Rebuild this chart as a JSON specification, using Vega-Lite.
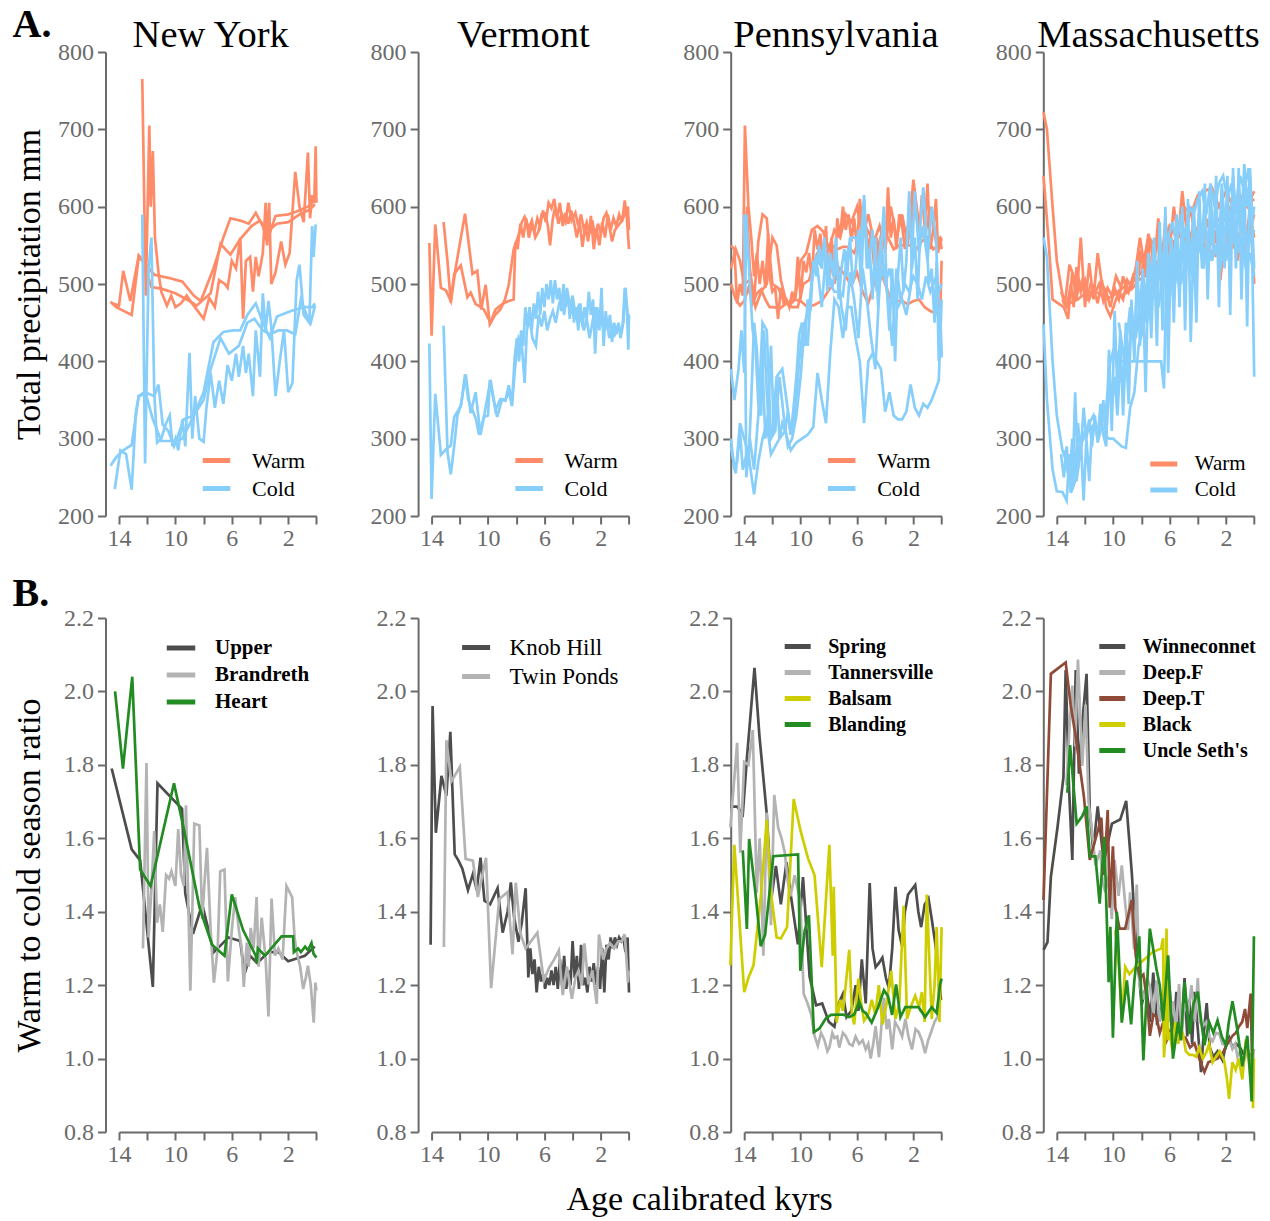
{
"$schema": "https://vega.github.io/schema/vega-lite/v6.json",
"padding": {"left": 12, "top": 4, "right": 5, "bottom": 5},
"config": {
  "font": "Liberation Serif",
  "view": {"stroke": null},
  "axis": {"grid": false, "domainColor": "#6b6b6b", "domainWidth": 2, "tickColor": "#6b6b6b", "tickWidth": 2, "tickSize": 8, "labelColor": "#6b6b6b", "labelFontSize": 24, "labelFlush": false, "labelOverlap": false, "titleFontSize": 34, "titleFontWeight": "normal", "titleColor": "#000"},
  "axisX": {"labelPadding": 2},
  "axisY": {"labelPadding": 4},
  "title": {"fontSize": 38.5, "fontWeight": "normal", "color": "#000", "anchor": "middle", "frame": "group", "baseline": "alphabetic", "offset": 0, "dy": 19, "dx": -7},
  "legend": {"orient": "none", "symbolType": "stroke", "symbolStrokeWidth": 5, "symbolSize": 756, "labelFontSize": 22, "labelColor": "#000", "labelOffset": 19, "padding": 0, "rowPadding": 0},
  "line": {"strokeWidth": 5, "clip": false}
},
"title": {"text": "A.", "anchor": "start", "frame": "bounds", "fontSize": 40, "fontWeight": "bold", "dx": 0, "dy": 61, "offset": 0, "baseline": "alphabetic"},
"columns": 4,
"bounds": "flush",
"align": "each",
"spacing": {"row": 102, "column": 114.6},
"resolve": {"scale": {"color": "independent", "x": "independent", "y": "independent"}, "legend": {"color": "independent"}},
"datasets": {
"nyT": [
{"l":"U","s":"Warm","x":14.6,"y":477},{"l":"U","s":"Warm","x":14.2,"y":470},{"l":"U","s":"Warm","x":13.1,"y":460},{"l":"U","s":"Warm","x":12.6,"y":535},{"l":"U","s":"Warm","x":12.1,"y":525},{"l":"U","s":"Warm","x":11.5,"y":512},{"l":"U","s":"Warm","x":10.5,"y":508},{"l":"U","s":"Warm","x":9.5,"y":503},{"l":"U","s":"Warm","x":8.7,"y":485},{"l":"U","s":"Warm","x":8.2,"y":478},{"l":"U","s":"Warm","x":7.3,"y":520},{"l":"U","s":"Warm","x":6.6,"y":560},{"l":"U","s":"Warm","x":6.1,"y":585},{"l":"U","s":"Warm","x":5.4,"y":582},{"l":"U","s":"Warm","x":4.8,"y":578},{"l":"U","s":"Warm","x":4.3,"y":592},{"l":"U","s":"Warm","x":3.8,"y":575},{"l":"U","s":"Warm","x":3.5,"y":555},{"l":"U","s":"Warm","x":2.9,"y":588},{"l":"U","s":"Warm","x":2.0,"y":590},{"l":"U","s":"Warm","x":1.5,"y":593},{"l":"U","s":"Warm","x":0.6,"y":600},{"l":"U","s":"Warm","x":0.3,"y":605},
{"l":"H","s":"Warm","x":14.5,"y":475},{"l":"H","s":"Warm","x":14.0,"y":472},{"l":"H","s":"Warm","x":13.7,"y":517},{"l":"H","s":"Warm","x":13.2,"y":478},{"l":"H","s":"Warm","x":12.6,"y":537},{"l":"H","s":"Warm","x":12.3,"y":530},{"l":"H","s":"Warm","x":11.7,"y":496},{"l":"H","s":"Warm","x":11.0,"y":494},{"l":"H","s":"Warm","x":10.0,"y":488},{"l":"H","s":"Warm","x":9.0,"y":478},{"l":"H","s":"Warm","x":8.5,"y":472},{"l":"H","s":"Warm","x":7.5,"y":488},{"l":"H","s":"Warm","x":6.8,"y":552},{"l":"H","s":"Warm","x":6.1,"y":538},{"l":"H","s":"Warm","x":5.4,"y":558},{"l":"H","s":"Warm","x":4.6,"y":575},{"l":"H","s":"Warm","x":4.0,"y":582},{"l":"H","s":"Warm","x":3.5,"y":568},{"l":"H","s":"Warm","x":2.8,"y":578},{"l":"H","s":"Warm","x":2.0,"y":580},{"l":"H","s":"Warm","x":1.2,"y":590},{"l":"H","s":"Warm","x":0.5,"y":596},{"l":"H","s":"Warm","x":0.1,"y":603},
{"l":"B","s":"Warm","x":12.35,"y":765},{"l":"B","s":"Warm","x":12.1,"y":485},{"l":"B","s":"Warm","x":11.85,"y":705},{"l":"B","s":"Warm","x":11.75,"y":600},{"l":"B","s":"Warm","x":11.6,"y":672},{"l":"B","s":"Warm","x":11.45,"y":560},{"l":"B","s":"Warm","x":11.2,"y":515},{"l":"B","s":"Warm","x":11.0,"y":490},{"l":"B","s":"Warm","x":10.6,"y":472},{"l":"B","s":"Warm","x":10.3,"y":485},{"l":"B","s":"Warm","x":10.0,"y":470},{"l":"B","s":"Warm","x":9.6,"y":475},{"l":"B","s":"Warm","x":9.2,"y":485},{"l":"B","s":"Warm","x":8.7,"y":472},{"l":"B","s":"Warm","x":8.0,"y":455},{"l":"B","s":"Warm","x":7.6,"y":482},{"l":"B","s":"Warm","x":7.2,"y":470},{"l":"B","s":"Warm","x":6.9,"y":505},{"l":"B","s":"Warm","x":6.5,"y":500},{"l":"B","s":"Warm","x":6.3,"y":495},{"l":"B","s":"Warm","x":6.0,"y":530},{"l":"B","s":"Warm","x":5.7,"y":520},{"l":"B","s":"Warm","x":5.4,"y":560},{"l":"B","s":"Warm","x":5.2,"y":455},{"l":"B","s":"Warm","x":5.0,"y":530},{"l":"B","s":"Warm","x":4.7,"y":535},{"l":"B","s":"Warm","x":4.5,"y":490},{"l":"B","s":"Warm","x":4.3,"y":535},{"l":"B","s":"Warm","x":4.1,"y":510},{"l":"B","s":"Warm","x":3.8,"y":540},{"l":"B","s":"Warm","x":3.6,"y":605},{"l":"B","s":"Warm","x":3.5,"y":550},{"l":"B","s":"Warm","x":3.35,"y":605},{"l":"B","s":"Warm","x":3.2,"y":500},{"l":"B","s":"Warm","x":2.9,"y":515},{"l":"B","s":"Warm","x":2.5,"y":555},{"l":"B","s":"Warm","x":2.2,"y":525},{"l":"B","s":"Warm","x":1.9,"y":540},{"l":"B","s":"Warm","x":1.5,"y":645},{"l":"B","s":"Warm","x":1.2,"y":600},{"l":"B","s":"Warm","x":0.9,"y":580},{"l":"B","s":"Warm","x":0.6,"y":670},{"l":"B","s":"Warm","x":0.45,"y":585},{"l":"B","s":"Warm","x":0.3,"y":615},{"l":"B","s":"Warm","x":0.15,"y":605},{"l":"B","s":"Warm","x":0.05,"y":678},{"l":"B","s":"Warm","x":0.0,"y":605},
{"l":"U","s":"Cold","x":14.6,"y":265},{"l":"U","s":"Cold","x":14.2,"y":276},{"l":"U","s":"Cold","x":13.7,"y":285},{"l":"U","s":"Cold","x":13.1,"y":292},{"l":"U","s":"Cold","x":12.6,"y":355},{"l":"U","s":"Cold","x":12.1,"y":358},{"l":"U","s":"Cold","x":11.6,"y":325},{"l":"U","s":"Cold","x":11.0,"y":297},{"l":"U","s":"Cold","x":10.0,"y":297},{"l":"U","s":"Cold","x":9.5,"y":300},{"l":"U","s":"Cold","x":8.7,"y":330},{"l":"U","s":"Cold","x":8.0,"y":360},{"l":"U","s":"Cold","x":7.3,"y":425},{"l":"U","s":"Cold","x":6.6,"y":438},{"l":"U","s":"Cold","x":5.9,"y":440},{"l":"U","s":"Cold","x":5.4,"y":440},{"l":"U","s":"Cold","x":4.9,"y":460},{"l":"U","s":"Cold","x":4.3,"y":475},{"l":"U","s":"Cold","x":3.8,"y":450},{"l":"U","s":"Cold","x":3.3,"y":430},{"l":"U","s":"Cold","x":2.8,"y":458},{"l":"U","s":"Cold","x":1.8,"y":465},{"l":"U","s":"Cold","x":0.9,"y":470},{"l":"U","s":"Cold","x":0.3,"y":470},{"l":"U","s":"Cold","x":0.1,"y":475},
{"l":"H","s":"Cold","x":14.3,"y":235},{"l":"H","s":"Cold","x":13.9,"y":285},{"l":"H","s":"Cold","x":13.5,"y":280},{"l":"H","s":"Cold","x":13.1,"y":234},{"l":"H","s":"Cold","x":12.8,"y":335},{"l":"H","s":"Cold","x":12.6,"y":355},{"l":"H","s":"Cold","x":12.2,"y":360},{"l":"H","s":"Cold","x":11.9,"y":358},{"l":"H","s":"Cold","x":11.5,"y":355},{"l":"H","s":"Cold","x":11.2,"y":370},{"l":"H","s":"Cold","x":10.9,"y":318},{"l":"H","s":"Cold","x":10.5,"y":310},{"l":"H","s":"Cold","x":10.1,"y":290},{"l":"H","s":"Cold","x":9.4,"y":325},{"l":"H","s":"Cold","x":8.7,"y":330},{"l":"H","s":"Cold","x":8.0,"y":350},{"l":"H","s":"Cold","x":7.5,"y":390},{"l":"H","s":"Cold","x":6.8,"y":430},{"l":"H","s":"Cold","x":6.2,"y":410},{"l":"H","s":"Cold","x":5.5,"y":420},{"l":"H","s":"Cold","x":4.9,"y":450},{"l":"H","s":"Cold","x":4.4,"y":455},{"l":"H","s":"Cold","x":3.8,"y":440},{"l":"H","s":"Cold","x":3.3,"y":435},{"l":"H","s":"Cold","x":2.7,"y":440},{"l":"H","s":"Cold","x":2.1,"y":440},{"l":"H","s":"Cold","x":1.5,"y":435},{"l":"H","s":"Cold","x":1.1,"y":480},{"l":"H","s":"Cold","x":0.7,"y":460},{"l":"H","s":"Cold","x":0.4,"y":450},{"l":"H","s":"Cold","x":0.1,"y":472},
{"l":"B","s":"Cold","x":12.35,"y":590},{"l":"B","s":"Cold","x":12.15,"y":268},{"l":"B","s":"Cold","x":11.9,"y":520},{"l":"B","s":"Cold","x":11.7,"y":560},{"l":"B","s":"Cold","x":11.5,"y":360},{"l":"B","s":"Cold","x":11.3,"y":295},{"l":"B","s":"Cold","x":11.0,"y":300},{"l":"B","s":"Cold","x":10.7,"y":318},{"l":"B","s":"Cold","x":10.4,"y":330},{"l":"B","s":"Cold","x":10.2,"y":290},{"l":"B","s":"Cold","x":10.0,"y":300},{"l":"B","s":"Cold","x":9.8,"y":285},{"l":"B","s":"Cold","x":9.5,"y":325},{"l":"B","s":"Cold","x":9.3,"y":290},{"l":"B","s":"Cold","x":9.0,"y":411},{"l":"B","s":"Cold","x":8.8,"y":300},{"l":"B","s":"Cold","x":8.6,"y":355},{"l":"B","s":"Cold","x":8.3,"y":300},{"l":"B","s":"Cold","x":8.0,"y":296},{"l":"B","s":"Cold","x":7.8,"y":340},{"l":"B","s":"Cold","x":7.5,"y":385},{"l":"B","s":"Cold","x":7.2,"y":340},{"l":"B","s":"Cold","x":6.9,"y":375},{"l":"B","s":"Cold","x":6.6,"y":345},{"l":"B","s":"Cold","x":6.3,"y":395},{"l":"B","s":"Cold","x":6.0,"y":375},{"l":"B","s":"Cold","x":5.7,"y":410},{"l":"B","s":"Cold","x":5.5,"y":380},{"l":"B","s":"Cold","x":5.2,"y":420},{"l":"B","s":"Cold","x":5.0,"y":385},{"l":"B","s":"Cold","x":4.8,"y":410},{"l":"B","s":"Cold","x":4.5,"y":355},{"l":"B","s":"Cold","x":4.3,"y":440},{"l":"B","s":"Cold","x":4.0,"y":380},{"l":"B","s":"Cold","x":3.8,"y":488},{"l":"B","s":"Cold","x":3.6,"y":440},{"l":"B","s":"Cold","x":3.4,"y":478},{"l":"B","s":"Cold","x":3.2,"y":445},{"l":"B","s":"Cold","x":2.9,"y":355},{"l":"B","s":"Cold","x":2.6,"y":400},{"l":"B","s":"Cold","x":2.3,"y":440},{"l":"B","s":"Cold","x":2.0,"y":360},{"l":"B","s":"Cold","x":1.7,"y":372},{"l":"B","s":"Cold","x":1.4,"y":505},{"l":"B","s":"Cold","x":1.2,"y":525},{"l":"B","s":"Cold","x":0.9,"y":460},{"l":"B","s":"Cold","x":0.7,"y":455},{"l":"B","s":"Cold","x":0.5,"y":450},{"l":"B","s":"Cold","x":0.3,"y":575},{"l":"B","s":"Cold","x":0.2,"y":535},{"l":"B","s":"Cold","x":0.05,"y":577}
],
"vtT": [
{"l":"K","s":"Warm","x":14.16,"y":553},{"l":"K","s":"Warm","x":14.0,"y":433},{"l":"K","s":"Warm","x":13.74,"y":577},{"l":"K","s":"Warm","x":13.34,"y":495},{"l":"K","s":"Warm","x":12.99,"y":492},{"l":"K","s":"Warm","x":12.64,"y":478},{"l":"K","s":"Warm","x":12.4,"y":513},{"l":"K","s":"Warm","x":11.93,"y":524},{"l":"K","s":"Warm","x":11.46,"y":483},{"l":"K","s":"Warm","x":11.23,"y":489},{"l":"K","s":"Warm","x":10.88,"y":474},{"l":"K","s":"Warm","x":10.5,"y":470},{"l":"K","s":"Warm","x":10.29,"y":467},{"l":"K","s":"Warm","x":9.82,"y":450},{"l":"K","s":"Warm","x":9.47,"y":467},{"l":"K","s":"Warm","x":9.0,"y":474},{"l":"K","s":"Warm","x":8.53,"y":478},{"l":"K","s":"Warm","x":8.18,"y":480},{"l":"K","s":"Warm","x":8.06,"y":554},{"l":"K","s":"Warm","x":7.9,"y":545},{"l":"K","s":"Warm","x":7.7,"y":578},{"l":"K","s":"Warm","x":7.5,"y":560},{"l":"K","s":"Warm","x":7.3,"y":585},{"l":"K","s":"Warm","x":7.1,"y":560},{"l":"K","s":"Warm","x":6.9,"y":575},{"l":"K","s":"Warm","x":6.7,"y":568},{"l":"K","s":"Warm","x":6.5,"y":585},{"l":"K","s":"Warm","x":6.3,"y":575},{"l":"K","s":"Warm","x":6.1,"y":595},{"l":"K","s":"Warm","x":5.9,"y":580},{"l":"K","s":"Warm","x":5.7,"y":605},{"l":"K","s":"Warm","x":5.5,"y":598},{"l":"K","s":"Warm","x":5.3,"y":610},{"l":"K","s":"Warm","x":5.1,"y":585},{"l":"K","s":"Warm","x":4.9,"y":605},{"l":"K","s":"Warm","x":4.7,"y":575},{"l":"K","s":"Warm","x":4.5,"y":592},{"l":"K","s":"Warm","x":4.3,"y":578},{"l":"K","s":"Warm","x":4.1,"y":595},{"l":"K","s":"Warm","x":3.9,"y":580},{"l":"K","s":"Warm","x":3.7,"y":560},{"l":"K","s":"Warm","x":3.5,"y":580},{"l":"K","s":"Warm","x":3.3,"y":548},{"l":"K","s":"Warm","x":3.1,"y":575},{"l":"K","s":"Warm","x":2.9,"y":555},{"l":"K","s":"Warm","x":2.7,"y":588},{"l":"K","s":"Warm","x":2.5,"y":545},{"l":"K","s":"Warm","x":2.3,"y":572},{"l":"K","s":"Warm","x":2.1,"y":550},{"l":"K","s":"Warm","x":1.9,"y":580},{"l":"K","s":"Warm","x":1.7,"y":560},{"l":"K","s":"Warm","x":1.5,"y":590},{"l":"K","s":"Warm","x":1.3,"y":570},{"l":"K","s":"Warm","x":1.1,"y":585},{"l":"K","s":"Warm","x":0.9,"y":575},{"l":"K","s":"Warm","x":0.7,"y":590},{"l":"K","s":"Warm","x":0.5,"y":580},{"l":"K","s":"Warm","x":0.3,"y":608},{"l":"K","s":"Warm","x":0.15,"y":585},{"l":"K","s":"Warm","x":0.0,"y":545},
{"l":"T","s":"Warm","x":13.15,"y":580},{"l":"T","s":"Warm","x":12.87,"y":529},{"l":"T","s":"Warm","x":12.64,"y":476},{"l":"T","s":"Warm","x":12.3,"y":520},{"l":"T","s":"Warm","x":11.63,"y":591},{"l":"T","s":"Warm","x":11.1,"y":513},{"l":"T","s":"Warm","x":10.76,"y":517},{"l":"T","s":"Warm","x":10.48,"y":467},{"l":"T","s":"Warm","x":10.17,"y":499},{"l":"T","s":"Warm","x":9.87,"y":448},{"l":"T","s":"Warm","x":9.5,"y":460},{"l":"T","s":"Warm","x":9.12,"y":467},{"l":"T","s":"Warm","x":8.8,"y":480},{"l":"T","s":"Warm","x":8.53,"y":499},{"l":"T","s":"Warm","x":8.18,"y":545},{"l":"T","s":"Warm","x":7.83,"y":563},{"l":"T","s":"Warm","x":7.6,"y":580},{"l":"T","s":"Warm","x":7.4,"y":587},{"l":"T","s":"Warm","x":7.1,"y":572},{"l":"T","s":"Warm","x":6.89,"y":582},{"l":"T","s":"Warm","x":6.65,"y":560},{"l":"T","s":"Warm","x":6.42,"y":568},{"l":"T","s":"Warm","x":6.2,"y":590},{"l":"T","s":"Warm","x":5.95,"y":591},{"l":"T","s":"Warm","x":5.75,"y":575},{"l":"T","s":"Warm","x":5.6,"y":550},{"l":"T","s":"Warm","x":5.4,"y":585},{"l":"T","s":"Warm","x":5.24,"y":600},{"l":"T","s":"Warm","x":5.0,"y":578},{"l":"T","s":"Warm","x":4.78,"y":591},{"l":"T","s":"Warm","x":4.5,"y":580},{"l":"T","s":"Warm","x":4.3,"y":605},{"l":"T","s":"Warm","x":4.07,"y":582},{"l":"T","s":"Warm","x":3.8,"y":592},{"l":"T","s":"Warm","x":3.6,"y":575},{"l":"T","s":"Warm","x":3.4,"y":590},{"l":"T","s":"Warm","x":3.2,"y":570},{"l":"T","s":"Warm","x":3.0,"y":580},{"l":"T","s":"Warm","x":2.8,"y":565},{"l":"T","s":"Warm","x":2.6,"y":582},{"l":"T","s":"Warm","x":2.4,"y":560},{"l":"T","s":"Warm","x":2.2,"y":578},{"l":"T","s":"Warm","x":2.0,"y":565},{"l":"T","s":"Warm","x":1.8,"y":585},{"l":"T","s":"Warm","x":1.6,"y":592},{"l":"T","s":"Warm","x":1.4,"y":575},{"l":"T","s":"Warm","x":1.2,"y":555},{"l":"T","s":"Warm","x":1.0,"y":570},{"l":"T","s":"Warm","x":0.78,"y":575},{"l":"T","s":"Warm","x":0.5,"y":582},{"l":"T","s":"Warm","x":0.31,"y":590},{"l":"T","s":"Warm","x":0.08,"y":600},{"l":"T","s":"Warm","x":0.0,"y":570},
{"l":"K","s":"Cold","x":14.16,"y":423},{"l":"K","s":"Cold","x":14.0,"y":222},{"l":"K","s":"Cold","x":13.74,"y":358},{"l":"K","s":"Cold","x":13.34,"y":279},{"l":"K","s":"Cold","x":12.99,"y":286},{"l":"K","s":"Cold","x":12.64,"y":291},{"l":"K","s":"Cold","x":12.4,"y":328},{"l":"K","s":"Cold","x":11.93,"y":342},{"l":"K","s":"Cold","x":11.58,"y":383},{"l":"K","s":"Cold","x":11.23,"y":333},{"l":"K","s":"Cold","x":10.88,"y":360},{"l":"K","s":"Cold","x":10.53,"y":305},{"l":"K","s":"Cold","x":10.29,"y":328},{"l":"K","s":"Cold","x":9.82,"y":376},{"l":"K","s":"Cold","x":9.47,"y":337},{"l":"K","s":"Cold","x":9.12,"y":351},{"l":"K","s":"Cold","x":8.77,"y":349},{"l":"K","s":"Cold","x":8.53,"y":369},{"l":"K","s":"Cold","x":8.3,"y":346},{"l":"K","s":"Cold","x":8.1,"y":406},{"l":"K","s":"Cold","x":7.95,"y":430},{"l":"K","s":"Cold","x":7.8,"y":400},{"l":"K","s":"Cold","x":7.65,"y":440},{"l":"K","s":"Cold","x":7.5,"y":420},{"l":"K","s":"Cold","x":7.35,"y":470},{"l":"K","s":"Cold","x":7.2,"y":445},{"l":"K","s":"Cold","x":7.05,"y":470},{"l":"K","s":"Cold","x":6.9,"y":440},{"l":"K","s":"Cold","x":6.75,"y":475},{"l":"K","s":"Cold","x":6.6,"y":455},{"l":"K","s":"Cold","x":6.45,"y":490},{"l":"K","s":"Cold","x":6.3,"y":460},{"l":"K","s":"Cold","x":6.15,"y":495},{"l":"K","s":"Cold","x":6.0,"y":470},{"l":"K","s":"Cold","x":5.85,"y":500},{"l":"K","s":"Cold","x":5.7,"y":480},{"l":"K","s":"Cold","x":5.55,"y":505},{"l":"K","s":"Cold","x":5.4,"y":475},{"l":"K","s":"Cold","x":5.25,"y":505},{"l":"K","s":"Cold","x":5.1,"y":480},{"l":"K","s":"Cold","x":4.95,"y":495},{"l":"K","s":"Cold","x":4.8,"y":465},{"l":"K","s":"Cold","x":4.65,"y":500},{"l":"K","s":"Cold","x":4.5,"y":470},{"l":"K","s":"Cold","x":4.35,"y":490},{"l":"K","s":"Cold","x":4.2,"y":455},{"l":"K","s":"Cold","x":4.05,"y":480},{"l":"K","s":"Cold","x":3.9,"y":450},{"l":"K","s":"Cold","x":3.75,"y":470},{"l":"K","s":"Cold","x":3.6,"y":440},{"l":"K","s":"Cold","x":3.45,"y":475},{"l":"K","s":"Cold","x":3.3,"y":445},{"l":"K","s":"Cold","x":3.15,"y":470},{"l":"K","s":"Cold","x":3.0,"y":455},{"l":"K","s":"Cold","x":2.85,"y":490},{"l":"K","s":"Cold","x":2.7,"y":460},{"l":"K","s":"Cold","x":2.55,"y":480},{"l":"K","s":"Cold","x":2.4,"y":410},{"l":"K","s":"Cold","x":2.25,"y":470},{"l":"K","s":"Cold","x":2.1,"y":440},{"l":"K","s":"Cold","x":1.95,"y":495},{"l":"K","s":"Cold","x":1.8,"y":420},{"l":"K","s":"Cold","x":1.65,"y":465},{"l":"K","s":"Cold","x":1.5,"y":440},{"l":"K","s":"Cold","x":1.35,"y":460},{"l":"K","s":"Cold","x":1.2,"y":425},{"l":"K","s":"Cold","x":1.05,"y":450},{"l":"K","s":"Cold","x":0.9,"y":435},{"l":"K","s":"Cold","x":0.75,"y":450},{"l":"K","s":"Cold","x":0.6,"y":430},{"l":"K","s":"Cold","x":0.45,"y":445},{"l":"K","s":"Cold","x":0.3,"y":495},{"l":"K","s":"Cold","x":0.15,"y":470},{"l":"K","s":"Cold","x":0.05,"y":415},{"l":"K","s":"Cold","x":0.0,"y":460},
{"l":"T","s":"Cold","x":13.15,"y":446},{"l":"T","s":"Cold","x":12.87,"y":282},{"l":"T","s":"Cold","x":12.64,"y":254},{"l":"T","s":"Cold","x":12.4,"y":290},{"l":"T","s":"Cold","x":12.17,"y":330},{"l":"T","s":"Cold","x":11.9,"y":345},{"l":"T","s":"Cold","x":11.63,"y":383},{"l":"T","s":"Cold","x":11.4,"y":350},{"l":"T","s":"Cold","x":11.1,"y":337},{"l":"T","s":"Cold","x":10.85,"y":325},{"l":"T","s":"Cold","x":10.64,"y":305},{"l":"T","s":"Cold","x":10.29,"y":328},{"l":"T","s":"Cold","x":10.0,"y":330},{"l":"T","s":"Cold","x":9.87,"y":376},{"l":"T","s":"Cold","x":9.6,"y":350},{"l":"T","s":"Cold","x":9.35,"y":328},{"l":"T","s":"Cold","x":9.0,"y":351},{"l":"T","s":"Cold","x":8.77,"y":350},{"l":"T","s":"Cold","x":8.5,"y":360},{"l":"T","s":"Cold","x":8.3,"y":342},{"l":"T","s":"Cold","x":8.1,"y":388},{"l":"T","s":"Cold","x":7.95,"y":415},{"l":"T","s":"Cold","x":7.83,"y":430},{"l":"T","s":"Cold","x":7.6,"y":420},{"l":"T","s":"Cold","x":7.4,"y":372},{"l":"T","s":"Cold","x":7.25,"y":440},{"l":"T","s":"Cold","x":7.05,"y":455},{"l":"T","s":"Cold","x":6.85,"y":430},{"l":"T","s":"Cold","x":6.6,"y":420},{"l":"T","s":"Cold","x":6.4,"y":460},{"l":"T","s":"Cold","x":6.2,"y":445},{"l":"T","s":"Cold","x":6.0,"y":465},{"l":"T","s":"Cold","x":5.8,"y":440},{"l":"T","s":"Cold","x":5.6,"y":455},{"l":"T","s":"Cold","x":5.4,"y":465},{"l":"T","s":"Cold","x":5.2,"y":450},{"l":"T","s":"Cold","x":5.0,"y":470},{"l":"T","s":"Cold","x":4.8,"y":485},{"l":"T","s":"Cold","x":4.6,"y":460},{"l":"T","s":"Cold","x":4.4,"y":495},{"l":"T","s":"Cold","x":4.2,"y":470},{"l":"T","s":"Cold","x":4.0,"y":485},{"l":"T","s":"Cold","x":3.8,"y":460},{"l":"T","s":"Cold","x":3.6,"y":470},{"l":"T","s":"Cold","x":3.4,"y":455},{"l":"T","s":"Cold","x":3.2,"y":440},{"l":"T","s":"Cold","x":3.0,"y":455},{"l":"T","s":"Cold","x":2.8,"y":430},{"l":"T","s":"Cold","x":2.6,"y":450},{"l":"T","s":"Cold","x":2.4,"y":470},{"l":"T","s":"Cold","x":2.2,"y":445},{"l":"T","s":"Cold","x":2.0,"y":458},{"l":"T","s":"Cold","x":1.8,"y":440},{"l":"T","s":"Cold","x":1.6,"y":455},{"l":"T","s":"Cold","x":1.4,"y":430},{"l":"T","s":"Cold","x":1.2,"y":445},{"l":"T","s":"Cold","x":1.0,"y":435},{"l":"T","s":"Cold","x":0.8,"y":445},{"l":"T","s":"Cold","x":0.6,"y":440},{"l":"T","s":"Cold","x":0.4,"y":450},{"l":"T","s":"Cold","x":0.25,"y":495},{"l":"T","s":"Cold","x":0.1,"y":460},{"l":"T","s":"Cold","x":0.0,"y":462}
],
"paT": [
{"l":"S","s":"Warm","x":14.94,"y":520},{"l":"S","s":"Warm","x":14.6,"y":545},{"l":"S","s":"Warm","x":14.3,"y":530},{"l":"S","s":"Warm","x":14.0,"y":500},{"l":"S","s":"Warm","x":13.8,"y":600},{"l":"S","s":"Warm","x":13.6,"y":520},{"l":"S","s":"Warm","x":13.3,"y":480},{"l":"S","s":"Warm","x":13.0,"y":555},{"l":"S","s":"Warm","x":12.7,"y":590},{"l":"S","s":"Warm","x":12.4,"y":585},{"l":"S","s":"Warm","x":12.2,"y":540},{"l":"S","s":"Warm","x":12.0,"y":500},{"l":"S","s":"Warm","x":11.6,"y":495},{"l":"S","s":"Warm","x":11.2,"y":480},{"l":"S","s":"Warm","x":10.8,"y":472},{"l":"S","s":"Warm","x":10.4,"y":480},{"l":"S","s":"Warm","x":10.0,"y":530},{"l":"S","s":"Warm","x":9.6,"y":540},{"l":"S","s":"Warm","x":9.2,"y":570},{"l":"S","s":"Warm","x":8.8,"y":575},{"l":"S","s":"Warm","x":8.4,"y":568},{"l":"S","s":"Warm","x":8.0,"y":545},{"l":"S","s":"Warm","x":7.6,"y":570},{"l":"S","s":"Warm","x":7.2,"y":560},{"l":"S","s":"Warm","x":6.8,"y":590},{"l":"S","s":"Warm","x":6.4,"y":580},{"l":"S","s":"Warm","x":6.0,"y":600},{"l":"S","s":"Warm","x":5.6,"y":560},{"l":"S","s":"Warm","x":5.2,"y":590},{"l":"S","s":"Warm","x":4.8,"y":555},{"l":"S","s":"Warm","x":4.4,"y":575},{"l":"S","s":"Warm","x":4.0,"y":545},{"l":"S","s":"Warm","x":3.6,"y":600},{"l":"S","s":"Warm","x":3.2,"y":560},{"l":"S","s":"Warm","x":2.8,"y":590},{"l":"S","s":"Warm","x":2.4,"y":550},{"l":"S","s":"Warm","x":2.0,"y":635},{"l":"S","s":"Warm","x":1.6,"y":575},{"l":"S","s":"Warm","x":1.2,"y":560},{"l":"S","s":"Warm","x":0.8,"y":600},{"l":"S","s":"Warm","x":0.4,"y":555},{"l":"S","s":"Warm","x":0.1,"y":560},{"l":"S","s":"Warm","x":0.0,"y":555},
{"l":"T","s":"Warm","x":14.94,"y":550},{"l":"T","s":"Warm","x":14.7,"y":545},{"l":"T","s":"Warm","x":14.5,"y":475},{"l":"T","s":"Warm","x":14.3,"y":500},{"l":"T","s":"Warm","x":14.1,"y":485},{"l":"T","s":"Warm","x":13.95,"y":705},{"l":"T","s":"Warm","x":13.7,"y":600},{"l":"T","s":"Warm","x":13.5,"y":560},{"l":"T","s":"Warm","x":13.3,"y":510},{"l":"T","s":"Warm","x":13.1,"y":540},{"l":"T","s":"Warm","x":12.9,"y":500},{"l":"T","s":"Warm","x":12.7,"y":530},{"l":"T","s":"Warm","x":12.5,"y":495},{"l":"T","s":"Warm","x":12.3,"y":565},{"l":"T","s":"Warm","x":12.15,"y":505},{"l":"T","s":"Warm","x":12.0,"y":490},{"l":"T","s":"Warm","x":11.8,"y":495},{"l":"T","s":"Warm","x":11.6,"y":455},{"l":"T","s":"Warm","x":11.4,"y":495},{"l":"T","s":"Warm","x":11.2,"y":475},{"l":"T","s":"Warm","x":11.0,"y":480},{"l":"T","s":"Warm","x":10.8,"y":470},{"l":"T","s":"Warm","x":10.6,"y":490},{"l":"T","s":"Warm","x":10.4,"y":478},{"l":"T","s":"Warm","x":10.2,"y":535},{"l":"T","s":"Warm","x":10.0,"y":480},{"l":"T","s":"Warm","x":9.8,"y":530},{"l":"T","s":"Warm","x":9.6,"y":515},{"l":"T","s":"Warm","x":9.4,"y":540},{"l":"T","s":"Warm","x":9.2,"y":505},{"l":"T","s":"Warm","x":9.0,"y":570},{"l":"T","s":"Warm","x":8.8,"y":545},{"l":"T","s":"Warm","x":8.6,"y":565},{"l":"T","s":"Warm","x":8.4,"y":530},{"l":"T","s":"Warm","x":8.2,"y":575},{"l":"T","s":"Warm","x":8.0,"y":500},{"l":"T","s":"Warm","x":7.8,"y":560},{"l":"T","s":"Warm","x":7.6,"y":500},{"l":"T","s":"Warm","x":7.4,"y":585},{"l":"T","s":"Warm","x":7.2,"y":560},{"l":"T","s":"Warm","x":7.0,"y":600},{"l":"T","s":"Warm","x":6.8,"y":570},{"l":"T","s":"Warm","x":6.6,"y":590},{"l":"T","s":"Warm","x":6.4,"y":555},{"l":"T","s":"Warm","x":6.2,"y":585},{"l":"T","s":"Warm","x":6.0,"y":545},{"l":"T","s":"Warm","x":5.8,"y":610},{"l":"T","s":"Warm","x":5.6,"y":570},{"l":"T","s":"Warm","x":5.4,"y":580},{"l":"T","s":"Warm","x":5.2,"y":540},{"l":"T","s":"Warm","x":5.0,"y":570},{"l":"T","s":"Warm","x":4.8,"y":525},{"l":"T","s":"Warm","x":4.6,"y":560},{"l":"T","s":"Warm","x":4.4,"y":505},{"l":"T","s":"Warm","x":4.2,"y":570},{"l":"T","s":"Warm","x":4.0,"y":540},{"l":"T","s":"Warm","x":3.8,"y":625},{"l":"T","s":"Warm","x":3.6,"y":560},{"l":"T","s":"Warm","x":3.4,"y":585},{"l":"T","s":"Warm","x":3.2,"y":545},{"l":"T","s":"Warm","x":3.0,"y":590},{"l":"T","s":"Warm","x":2.8,"y":575},{"l":"T","s":"Warm","x":2.6,"y":545},{"l":"T","s":"Warm","x":2.4,"y":575},{"l":"T","s":"Warm","x":2.2,"y":560},{"l":"T","s":"Warm","x":2.0,"y":620},{"l":"T","s":"Warm","x":1.8,"y":590},{"l":"T","s":"Warm","x":1.6,"y":560},{"l":"T","s":"Warm","x":1.4,"y":615},{"l":"T","s":"Warm","x":1.2,"y":575},{"l":"T","s":"Warm","x":1.0,"y":630},{"l":"T","s":"Warm","x":0.8,"y":545},{"l":"T","s":"Warm","x":0.6,"y":570},{"l":"T","s":"Warm","x":0.4,"y":610},{"l":"T","s":"Warm","x":0.25,"y":540},{"l":"T","s":"Warm","x":0.1,"y":560},{"l":"T","s":"Warm","x":0.0,"y":545},
{"l":"B","s":"Warm","x":14.94,"y":500},{"l":"B","s":"Warm","x":14.6,"y":480},{"l":"B","s":"Warm","x":14.3,"y":472},{"l":"B","s":"Warm","x":14.0,"y":478},{"l":"B","s":"Warm","x":13.7,"y":495},{"l":"B","s":"Warm","x":13.4,"y":475},{"l":"B","s":"Warm","x":13.1,"y":488},{"l":"B","s":"Warm","x":12.8,"y":493},{"l":"B","s":"Warm","x":12.5,"y":480},{"l":"B","s":"Warm","x":12.2,"y":470},{"l":"B","s":"Warm","x":11.9,"y":470},{"l":"B","s":"Warm","x":11.5,"y":468},{"l":"B","s":"Warm","x":11.0,"y":475},{"l":"B","s":"Warm","x":10.5,"y":480},{"l":"B","s":"Warm","x":10.0,"y":478},{"l":"B","s":"Warm","x":9.5,"y":470},{"l":"B","s":"Warm","x":9.0,"y":473},{"l":"B","s":"Warm","x":8.5,"y":478},{"l":"B","s":"Warm","x":8.0,"y":492},{"l":"B","s":"Warm","x":7.6,"y":503},{"l":"B","s":"Warm","x":7.2,"y":520},{"l":"B","s":"Warm","x":6.8,"y":510},{"l":"B","s":"Warm","x":6.4,"y":498},{"l":"B","s":"Warm","x":6.0,"y":515},{"l":"B","s":"Warm","x":5.6,"y":490},{"l":"B","s":"Warm","x":5.2,"y":475},{"l":"B","s":"Warm","x":4.8,"y":500},{"l":"B","s":"Warm","x":4.4,"y":520},{"l":"B","s":"Warm","x":4.0,"y":500},{"l":"B","s":"Warm","x":3.6,"y":480},{"l":"B","s":"Warm","x":3.2,"y":478},{"l":"B","s":"Warm","x":2.8,"y":478},{"l":"B","s":"Warm","x":2.4,"y":474},{"l":"B","s":"Warm","x":2.0,"y":478},{"l":"B","s":"Warm","x":1.6,"y":480},{"l":"B","s":"Warm","x":1.2,"y":470},{"l":"B","s":"Warm","x":0.8,"y":465},{"l":"B","s":"Warm","x":0.4,"y":462},{"l":"B","s":"Warm","x":0.1,"y":460},{"l":"B","s":"Warm","x":0.0,"y":530},
{"l":"L","s":"Warm","x":14.0,"y":500},{"l":"L","s":"Warm","x":13.6,"y":505},{"l":"L","s":"Warm","x":13.2,"y":470},{"l":"L","s":"Warm","x":12.8,"y":490},{"l":"L","s":"Warm","x":12.4,"y":500},{"l":"L","s":"Warm","x":12.0,"y":560},{"l":"L","s":"Warm","x":11.7,"y":550},{"l":"L","s":"Warm","x":11.4,"y":505},{"l":"L","s":"Warm","x":11.0,"y":475},{"l":"L","s":"Warm","x":10.6,"y":470},{"l":"L","s":"Warm","x":10.2,"y":470},{"l":"L","s":"Warm","x":9.8,"y":500},{"l":"L","s":"Warm","x":9.4,"y":505},{"l":"L","s":"Warm","x":9.0,"y":530},{"l":"L","s":"Warm","x":8.6,"y":550},{"l":"L","s":"Warm","x":8.2,"y":545},{"l":"L","s":"Warm","x":7.8,"y":550},{"l":"L","s":"Warm","x":7.4,"y":545},{"l":"L","s":"Warm","x":7.0,"y":548},{"l":"L","s":"Warm","x":6.6,"y":548},{"l":"L","s":"Warm","x":6.2,"y":540},{"l":"L","s":"Warm","x":5.8,"y":560},{"l":"L","s":"Warm","x":5.4,"y":575},{"l":"L","s":"Warm","x":5.0,"y":560},{"l":"L","s":"Warm","x":4.6,"y":540},{"l":"L","s":"Warm","x":4.2,"y":570},{"l":"L","s":"Warm","x":3.8,"y":560},{"l":"L","s":"Warm","x":3.4,"y":545},{"l":"L","s":"Warm","x":3.0,"y":550},{"l":"L","s":"Warm","x":2.6,"y":550},{"l":"L","s":"Warm","x":2.2,"y":550},{"l":"L","s":"Warm","x":1.8,"y":545},{"l":"L","s":"Warm","x":1.4,"y":555},{"l":"L","s":"Warm","x":1.0,"y":560},{"l":"L","s":"Warm","x":0.6,"y":545},{"l":"L","s":"Warm","x":0.2,"y":550},{"l":"L","s":"Warm","x":0.0,"y":560},
{"l":"S","s":"Cold","x":14.94,"y":390},{"l":"S","s":"Cold","x":14.7,"y":350},{"l":"S","s":"Cold","x":14.4,"y":390},{"l":"S","s":"Cold","x":14.2,"y":440},{"l":"S","s":"Cold","x":14.0,"y":385},{"l":"S","s":"Cold","x":13.85,"y":590},{"l":"S","s":"Cold","x":13.6,"y":500},{"l":"S","s":"Cold","x":13.4,"y":440},{"l":"S","s":"Cold","x":13.2,"y":420},{"l":"S","s":"Cold","x":13.0,"y":345},{"l":"S","s":"Cold","x":12.8,"y":330},{"l":"S","s":"Cold","x":12.6,"y":440},{"l":"S","s":"Cold","x":12.4,"y":360},{"l":"S","s":"Cold","x":12.2,"y":300},{"l":"S","s":"Cold","x":12.0,"y":305},{"l":"S","s":"Cold","x":11.7,"y":380},{"l":"S","s":"Cold","x":11.3,"y":390},{"l":"S","s":"Cold","x":11.0,"y":350},{"l":"S","s":"Cold","x":10.7,"y":305},{"l":"S","s":"Cold","x":10.4,"y":330},{"l":"S","s":"Cold","x":10.1,"y":400},{"l":"S","s":"Cold","x":9.8,"y":450},{"l":"S","s":"Cold","x":9.5,"y":420},{"l":"S","s":"Cold","x":9.2,"y":510},{"l":"S","s":"Cold","x":8.9,"y":535},{"l":"S","s":"Cold","x":8.6,"y":525},{"l":"S","s":"Cold","x":8.3,"y":555},{"l":"S","s":"Cold","x":8.0,"y":510},{"l":"S","s":"Cold","x":7.7,"y":500},{"l":"S","s":"Cold","x":7.4,"y":530},{"l":"S","s":"Cold","x":7.1,"y":470},{"l":"S","s":"Cold","x":6.8,"y":440},{"l":"S","s":"Cold","x":6.5,"y":515},{"l":"S","s":"Cold","x":6.2,"y":480},{"l":"S","s":"Cold","x":5.9,"y":430},{"l":"S","s":"Cold","x":5.6,"y":520},{"l":"S","s":"Cold","x":5.3,"y":480},{"l":"S","s":"Cold","x":5.0,"y":430},{"l":"S","s":"Cold","x":4.7,"y":390},{"l":"S","s":"Cold","x":4.4,"y":500},{"l":"S","s":"Cold","x":4.1,"y":525},{"l":"S","s":"Cold","x":3.8,"y":480},{"l":"S","s":"Cold","x":3.5,"y":420},{"l":"S","s":"Cold","x":3.2,"y":520},{"l":"S","s":"Cold","x":2.9,"y":480},{"l":"S","s":"Cold","x":2.6,"y":500},{"l":"S","s":"Cold","x":2.3,"y":490},{"l":"S","s":"Cold","x":2.0,"y":510},{"l":"S","s":"Cold","x":1.7,"y":500},{"l":"S","s":"Cold","x":1.4,"y":480},{"l":"S","s":"Cold","x":1.1,"y":510},{"l":"S","s":"Cold","x":0.8,"y":490},{"l":"S","s":"Cold","x":0.5,"y":505},{"l":"S","s":"Cold","x":0.2,"y":490},{"l":"S","s":"Cold","x":0.0,"y":500},
{"l":"T","s":"Cold","x":14.94,"y":300},{"l":"T","s":"Cold","x":14.7,"y":260},{"l":"T","s":"Cold","x":14.5,"y":270},{"l":"T","s":"Cold","x":14.3,"y":310},{"l":"T","s":"Cold","x":14.1,"y":260},{"l":"T","s":"Cold","x":13.9,"y":275},{"l":"T","s":"Cold","x":13.7,"y":265},{"l":"T","s":"Cold","x":13.5,"y":350},{"l":"T","s":"Cold","x":13.3,"y":450},{"l":"T","s":"Cold","x":13.1,"y":415},{"l":"T","s":"Cold","x":12.9,"y":330},{"l":"T","s":"Cold","x":12.7,"y":395},{"l":"T","s":"Cold","x":12.5,"y":300},{"l":"T","s":"Cold","x":12.3,"y":335},{"l":"T","s":"Cold","x":12.1,"y":420},{"l":"T","s":"Cold","x":11.9,"y":310},{"l":"T","s":"Cold","x":11.7,"y":375},{"l":"T","s":"Cold","x":11.5,"y":300},{"l":"T","s":"Cold","x":11.3,"y":320},{"l":"T","s":"Cold","x":11.1,"y":310},{"l":"T","s":"Cold","x":10.9,"y":335},{"l":"T","s":"Cold","x":10.7,"y":305},{"l":"T","s":"Cold","x":10.5,"y":340},{"l":"T","s":"Cold","x":10.3,"y":380},{"l":"T","s":"Cold","x":10.1,"y":435},{"l":"T","s":"Cold","x":9.9,"y":450},{"l":"T","s":"Cold","x":9.7,"y":420},{"l":"T","s":"Cold","x":9.5,"y":480},{"l":"T","s":"Cold","x":9.3,"y":465},{"l":"T","s":"Cold","x":9.1,"y":530},{"l":"T","s":"Cold","x":8.9,"y":510},{"l":"T","s":"Cold","x":8.7,"y":550},{"l":"T","s":"Cold","x":8.5,"y":520},{"l":"T","s":"Cold","x":8.3,"y":560},{"l":"T","s":"Cold","x":8.1,"y":490},{"l":"T","s":"Cold","x":7.9,"y":540},{"l":"T","s":"Cold","x":7.7,"y":510},{"l":"T","s":"Cold","x":7.5,"y":560},{"l":"T","s":"Cold","x":7.3,"y":480},{"l":"T","s":"Cold","x":7.1,"y":520},{"l":"T","s":"Cold","x":6.9,"y":545},{"l":"T","s":"Cold","x":6.7,"y":510},{"l":"T","s":"Cold","x":6.5,"y":560},{"l":"T","s":"Cold","x":6.3,"y":500},{"l":"T","s":"Cold","x":6.1,"y":520},{"l":"T","s":"Cold","x":5.9,"y":570},{"l":"T","s":"Cold","x":5.7,"y":490},{"l":"T","s":"Cold","x":5.5,"y":615},{"l":"T","s":"Cold","x":5.3,"y":520},{"l":"T","s":"Cold","x":5.1,"y":545},{"l":"T","s":"Cold","x":4.9,"y":480},{"l":"T","s":"Cold","x":4.7,"y":560},{"l":"T","s":"Cold","x":4.5,"y":470},{"l":"T","s":"Cold","x":4.3,"y":540},{"l":"T","s":"Cold","x":4.1,"y":600},{"l":"T","s":"Cold","x":3.9,"y":500},{"l":"T","s":"Cold","x":3.7,"y":440},{"l":"T","s":"Cold","x":3.5,"y":520},{"l":"T","s":"Cold","x":3.3,"y":400},{"l":"T","s":"Cold","x":3.1,"y":510},{"l":"T","s":"Cold","x":2.9,"y":560},{"l":"T","s":"Cold","x":2.7,"y":490},{"l":"T","s":"Cold","x":2.5,"y":530},{"l":"T","s":"Cold","x":2.3,"y":620},{"l":"T","s":"Cold","x":2.1,"y":520},{"l":"T","s":"Cold","x":1.9,"y":560},{"l":"T","s":"Cold","x":1.7,"y":480},{"l":"T","s":"Cold","x":1.5,"y":580},{"l":"T","s":"Cold","x":1.3,"y":625},{"l":"T","s":"Cold","x":1.1,"y":570},{"l":"T","s":"Cold","x":0.9,"y":500},{"l":"T","s":"Cold","x":0.7,"y":520},{"l":"T","s":"Cold","x":0.5,"y":450},{"l":"T","s":"Cold","x":0.35,"y":530},{"l":"T","s":"Cold","x":0.2,"y":400},{"l":"T","s":"Cold","x":0.1,"y":470},{"l":"T","s":"Cold","x":0.0,"y":405},
{"l":"B","s":"Cold","x":14.94,"y":290},{"l":"B","s":"Cold","x":14.6,"y":255},{"l":"B","s":"Cold","x":14.3,"y":320},{"l":"B","s":"Cold","x":14.0,"y":300},{"l":"B","s":"Cold","x":13.7,"y":280},{"l":"B","s":"Cold","x":13.3,"y":228},{"l":"B","s":"Cold","x":13.0,"y":270},{"l":"B","s":"Cold","x":12.7,"y":300},{"l":"B","s":"Cold","x":12.4,"y":320},{"l":"B","s":"Cold","x":12.1,"y":280},{"l":"B","s":"Cold","x":11.8,"y":290},{"l":"B","s":"Cold","x":11.5,"y":300},{"l":"B","s":"Cold","x":11.1,"y":310},{"l":"B","s":"Cold","x":10.7,"y":285},{"l":"B","s":"Cold","x":10.3,"y":295},{"l":"B","s":"Cold","x":9.9,"y":300},{"l":"B","s":"Cold","x":9.5,"y":305},{"l":"B","s":"Cold","x":9.1,"y":315},{"l":"B","s":"Cold","x":8.8,"y":385},{"l":"B","s":"Cold","x":8.5,"y":350},{"l":"B","s":"Cold","x":8.2,"y":320},{"l":"B","s":"Cold","x":7.9,"y":410},{"l":"B","s":"Cold","x":7.6,"y":480},{"l":"B","s":"Cold","x":7.3,"y":470},{"l":"B","s":"Cold","x":7.0,"y":430},{"l":"B","s":"Cold","x":6.7,"y":470},{"l":"B","s":"Cold","x":6.4,"y":470},{"l":"B","s":"Cold","x":6.1,"y":430},{"l":"B","s":"Cold","x":5.8,"y":400},{"l":"B","s":"Cold","x":5.5,"y":320},{"l":"B","s":"Cold","x":5.2,"y":400},{"l":"B","s":"Cold","x":4.9,"y":410},{"l":"B","s":"Cold","x":4.6,"y":400},{"l":"B","s":"Cold","x":4.3,"y":390},{"l":"B","s":"Cold","x":4.0,"y":335},{"l":"B","s":"Cold","x":3.7,"y":360},{"l":"B","s":"Cold","x":3.4,"y":330},{"l":"B","s":"Cold","x":3.1,"y":325},{"l":"B","s":"Cold","x":2.8,"y":325},{"l":"B","s":"Cold","x":2.5,"y":335},{"l":"B","s":"Cold","x":2.2,"y":370},{"l":"B","s":"Cold","x":1.9,"y":340},{"l":"B","s":"Cold","x":1.6,"y":330},{"l":"B","s":"Cold","x":1.3,"y":345},{"l":"B","s":"Cold","x":1.0,"y":340},{"l":"B","s":"Cold","x":0.7,"y":350},{"l":"B","s":"Cold","x":0.4,"y":365},{"l":"B","s":"Cold","x":0.2,"y":375},{"l":"B","s":"Cold","x":0.0,"y":480},
{"l":"L","s":"Cold","x":14.0,"y":590},{"l":"L","s":"Cold","x":13.85,"y":250},{"l":"L","s":"Cold","x":13.6,"y":300},{"l":"L","s":"Cold","x":13.3,"y":260},{"l":"L","s":"Cold","x":13.0,"y":330},{"l":"L","s":"Cold","x":12.7,"y":450},{"l":"L","s":"Cold","x":12.4,"y":440},{"l":"L","s":"Cold","x":12.1,"y":300},{"l":"L","s":"Cold","x":11.8,"y":310},{"l":"L","s":"Cold","x":11.5,"y":380},{"l":"L","s":"Cold","x":11.2,"y":330},{"l":"L","s":"Cold","x":10.9,"y":290},{"l":"L","s":"Cold","x":10.6,"y":300},{"l":"L","s":"Cold","x":10.3,"y":330},{"l":"L","s":"Cold","x":10.0,"y":380},{"l":"L","s":"Cold","x":9.7,"y":450},{"l":"L","s":"Cold","x":9.4,"y":470},{"l":"L","s":"Cold","x":9.1,"y":520},{"l":"L","s":"Cold","x":8.8,"y":520},{"l":"L","s":"Cold","x":8.5,"y":470},{"l":"L","s":"Cold","x":8.2,"y":540},{"l":"L","s":"Cold","x":7.9,"y":500},{"l":"L","s":"Cold","x":7.6,"y":490},{"l":"L","s":"Cold","x":7.3,"y":490},{"l":"L","s":"Cold","x":7.0,"y":485},{"l":"L","s":"Cold","x":6.7,"y":540},{"l":"L","s":"Cold","x":6.4,"y":560},{"l":"L","s":"Cold","x":6.1,"y":560},{"l":"L","s":"Cold","x":5.8,"y":540},{"l":"L","s":"Cold","x":5.5,"y":610},{"l":"L","s":"Cold","x":5.2,"y":520},{"l":"L","s":"Cold","x":4.9,"y":570},{"l":"L","s":"Cold","x":4.6,"y":490},{"l":"L","s":"Cold","x":4.3,"y":560},{"l":"L","s":"Cold","x":4.0,"y":500},{"l":"L","s":"Cold","x":3.7,"y":520},{"l":"L","s":"Cold","x":3.4,"y":490},{"l":"L","s":"Cold","x":3.1,"y":470},{"l":"L","s":"Cold","x":2.8,"y":480},{"l":"L","s":"Cold","x":2.5,"y":460},{"l":"L","s":"Cold","x":2.2,"y":495},{"l":"L","s":"Cold","x":1.9,"y":620},{"l":"L","s":"Cold","x":1.6,"y":540},{"l":"L","s":"Cold","x":1.3,"y":575},{"l":"L","s":"Cold","x":1.0,"y":530},{"l":"L","s":"Cold","x":0.7,"y":600},{"l":"L","s":"Cold","x":0.4,"y":560},{"l":"L","s":"Cold","x":0.2,"y":460},{"l":"L","s":"Cold","x":0.0,"y":410}
],
"maT": [
{"l":"D","s":"Warm","x":14.94,"y":722},{"l":"D","s":"Warm","x":14.7,"y":700},{"l":"D","s":"Warm","x":14.3,"y":600},{"l":"D","s":"Warm","x":14.0,"y":530},{"l":"D","s":"Warm","x":13.5,"y":475},{"l":"D","s":"Warm","x":13.0,"y":476},{"l":"D","s":"Warm","x":12.5,"y":480},{"l":"D","s":"Warm","x":12.0,"y":488},{"l":"D","s":"Warm","x":11.5,"y":490},{"l":"D","s":"Warm","x":11.0,"y":488},{"l":"D","s":"Warm","x":10.5,"y":480},{"l":"D","s":"Warm","x":10.0,"y":485},{"l":"D","s":"Warm","x":9.5,"y":492},{"l":"D","s":"Warm","x":9.0,"y":500},{"l":"D","s":"Warm","x":8.5,"y":505},{"l":"D","s":"Warm","x":8.0,"y":515},{"l":"D","s":"Warm","x":7.5,"y":560},{"l":"D","s":"Warm","x":7.0,"y":550},{"l":"D","s":"Warm","x":6.5,"y":545},{"l":"D","s":"Warm","x":6.0,"y":575},{"l":"D","s":"Warm","x":5.5,"y":560},{"l":"D","s":"Warm","x":5.0,"y":600},{"l":"D","s":"Warm","x":4.5,"y":590},{"l":"D","s":"Warm","x":4.0,"y":615},{"l":"D","s":"Warm","x":3.5,"y":620},{"l":"D","s":"Warm","x":3.0,"y":625},{"l":"D","s":"Warm","x":2.5,"y":600},{"l":"D","s":"Warm","x":2.0,"y":620},{"l":"D","s":"Warm","x":1.5,"y":600},{"l":"D","s":"Warm","x":1.0,"y":615},{"l":"D","s":"Warm","x":0.5,"y":600},{"l":"D","s":"Warm","x":0.0,"y":620},
{"l":"W","s":"Warm","x":14.94,"y":640},{"l":"W","s":"Warm","x":14.6,"y":560},{"l":"W","s":"Warm","x":14.3,"y":480},{"l":"W","s":"Warm","x":13.9,"y":475},{"l":"W","s":"Warm","x":13.5,"y":470},{"l":"W","s":"Warm","x":13.2,"y":455},{"l":"W","s":"Warm","x":12.9,"y":515},{"l":"W","s":"Warm","x":12.6,"y":480},{"l":"W","s":"Warm","x":12.3,"y":560},{"l":"W","s":"Warm","x":12.0,"y":470},{"l":"W","s":"Warm","x":11.7,"y":527},{"l":"W","s":"Warm","x":11.4,"y":480},{"l":"W","s":"Warm","x":11.1,"y":540},{"l":"W","s":"Warm","x":10.8,"y":500},{"l":"W","s":"Warm","x":10.5,"y":490},{"l":"W","s":"Warm","x":10.2,"y":470},{"l":"W","s":"Warm","x":9.9,"y":495},{"l":"W","s":"Warm","x":9.6,"y":480},{"l":"W","s":"Warm","x":9.3,"y":510},{"l":"W","s":"Warm","x":9.0,"y":490},{"l":"W","s":"Warm","x":8.7,"y":500},{"l":"W","s":"Warm","x":8.4,"y":520},{"l":"W","s":"Warm","x":8.1,"y":560},{"l":"W","s":"Warm","x":7.8,"y":525},{"l":"W","s":"Warm","x":7.5,"y":565},{"l":"W","s":"Warm","x":7.2,"y":540},{"l":"W","s":"Warm","x":6.9,"y":560},{"l":"W","s":"Warm","x":6.6,"y":520},{"l":"W","s":"Warm","x":6.3,"y":580},{"l":"W","s":"Warm","x":6.0,"y":545},{"l":"W","s":"Warm","x":5.7,"y":600},{"l":"W","s":"Warm","x":5.4,"y":560},{"l":"W","s":"Warm","x":5.1,"y":620},{"l":"W","s":"Warm","x":4.8,"y":570},{"l":"W","s":"Warm","x":4.5,"y":600},{"l":"W","s":"Warm","x":4.2,"y":555},{"l":"W","s":"Warm","x":3.9,"y":580},{"l":"W","s":"Warm","x":3.6,"y":540},{"l":"W","s":"Warm","x":3.3,"y":565},{"l":"W","s":"Warm","x":3.0,"y":530},{"l":"W","s":"Warm","x":2.7,"y":570},{"l":"W","s":"Warm","x":2.4,"y":505},{"l":"W","s":"Warm","x":2.1,"y":560},{"l":"W","s":"Warm","x":1.8,"y":600},{"l":"W","s":"Warm","x":1.5,"y":590},{"l":"W","s":"Warm","x":1.2,"y":530},{"l":"W","s":"Warm","x":0.9,"y":560},{"l":"W","s":"Warm","x":0.6,"y":540},{"l":"W","s":"Warm","x":0.3,"y":600},{"l":"W","s":"Warm","x":0.0,"y":500},
{"l":"F","s":"Warm","x":13.6,"y":480},{"l":"F","s":"Warm","x":13.3,"y":470},{"l":"F","s":"Warm","x":13.0,"y":500},{"l":"F","s":"Warm","x":12.8,"y":470},{"l":"F","s":"Warm","x":12.6,"y":522},{"l":"F","s":"Warm","x":12.3,"y":490},{"l":"F","s":"Warm","x":12.0,"y":505},{"l":"F","s":"Warm","x":11.7,"y":480},{"l":"F","s":"Warm","x":11.4,"y":495},{"l":"F","s":"Warm","x":11.1,"y":475},{"l":"F","s":"Warm","x":10.8,"y":505},{"l":"F","s":"Warm","x":10.5,"y":470},{"l":"F","s":"Warm","x":10.2,"y":458},{"l":"F","s":"Warm","x":9.9,"y":475},{"l":"F","s":"Warm","x":9.6,"y":490},{"l":"F","s":"Warm","x":9.3,"y":480},{"l":"F","s":"Warm","x":9.0,"y":505},{"l":"F","s":"Warm","x":8.7,"y":495},{"l":"F","s":"Warm","x":8.4,"y":520},{"l":"F","s":"Warm","x":8.1,"y":540},{"l":"F","s":"Warm","x":7.8,"y":520},{"l":"F","s":"Warm","x":7.5,"y":545},{"l":"F","s":"Warm","x":7.2,"y":500},{"l":"F","s":"Warm","x":6.9,"y":530},{"l":"F","s":"Warm","x":6.6,"y":510},{"l":"F","s":"Warm","x":6.3,"y":555},{"l":"F","s":"Warm","x":6.0,"y":560},{"l":"F","s":"Warm","x":5.7,"y":540},{"l":"F","s":"Warm","x":5.4,"y":570},{"l":"F","s":"Warm","x":5.1,"y":555},{"l":"F","s":"Warm","x":4.8,"y":565},{"l":"F","s":"Warm","x":4.5,"y":545},{"l":"F","s":"Warm","x":4.2,"y":575},{"l":"F","s":"Warm","x":3.9,"y":550},{"l":"F","s":"Warm","x":3.6,"y":570},{"l":"F","s":"Warm","x":3.3,"y":545},{"l":"F","s":"Warm","x":3.0,"y":560},{"l":"F","s":"Warm","x":2.7,"y":535},{"l":"F","s":"Warm","x":2.4,"y":560},{"l":"F","s":"Warm","x":2.1,"y":530},{"l":"F","s":"Warm","x":1.8,"y":570},{"l":"F","s":"Warm","x":1.5,"y":550},{"l":"F","s":"Warm","x":1.2,"y":540},{"l":"F","s":"Warm","x":0.9,"y":580},{"l":"F","s":"Warm","x":0.6,"y":560},{"l":"F","s":"Warm","x":0.3,"y":590},{"l":"F","s":"Warm","x":0.0,"y":560},
{"l":"U","s":"Warm","x":13.7,"y":490},{"l":"U","s":"Warm","x":13.4,"y":478},{"l":"U","s":"Warm","x":13.1,"y":525},{"l":"U","s":"Warm","x":12.8,"y":510},{"l":"U","s":"Warm","x":12.5,"y":490},{"l":"U","s":"Warm","x":12.2,"y":505},{"l":"U","s":"Warm","x":11.9,"y":478},{"l":"U","s":"Warm","x":11.6,"y":500},{"l":"U","s":"Warm","x":11.3,"y":488},{"l":"U","s":"Warm","x":11.0,"y":500},{"l":"U","s":"Warm","x":10.7,"y":478},{"l":"U","s":"Warm","x":10.4,"y":495},{"l":"U","s":"Warm","x":10.1,"y":485},{"l":"U","s":"Warm","x":9.8,"y":510},{"l":"U","s":"Warm","x":9.5,"y":498},{"l":"U","s":"Warm","x":9.2,"y":505},{"l":"U","s":"Warm","x":8.9,"y":490},{"l":"U","s":"Warm","x":8.6,"y":510},{"l":"U","s":"Warm","x":8.3,"y":500},{"l":"U","s":"Warm","x":8.0,"y":540},{"l":"U","s":"Warm","x":7.7,"y":510},{"l":"U","s":"Warm","x":7.4,"y":560},{"l":"U","s":"Warm","x":7.1,"y":520},{"l":"U","s":"Warm","x":6.8,"y":585},{"l":"U","s":"Warm","x":6.5,"y":510},{"l":"U","s":"Warm","x":6.2,"y":520},{"l":"U","s":"Warm","x":5.9,"y":560},{"l":"U","s":"Warm","x":5.6,"y":540},{"l":"U","s":"Warm","x":5.3,"y":520},{"l":"U","s":"Warm","x":5.0,"y":565},{"l":"U","s":"Warm","x":4.7,"y":540},{"l":"U","s":"Warm","x":4.4,"y":570},{"l":"U","s":"Warm","x":4.1,"y":555},{"l":"U","s":"Warm","x":3.8,"y":565},{"l":"U","s":"Warm","x":3.5,"y":540},{"l":"U","s":"Warm","x":3.2,"y":560},{"l":"U","s":"Warm","x":2.9,"y":550},{"l":"U","s":"Warm","x":2.6,"y":545},{"l":"U","s":"Warm","x":2.3,"y":575},{"l":"U","s":"Warm","x":2.0,"y":555},{"l":"U","s":"Warm","x":1.7,"y":585},{"l":"U","s":"Warm","x":1.4,"y":570},{"l":"U","s":"Warm","x":1.1,"y":560},{"l":"U","s":"Warm","x":0.8,"y":580},{"l":"U","s":"Warm","x":0.5,"y":560},{"l":"U","s":"Warm","x":0.2,"y":575},{"l":"U","s":"Warm","x":0.0,"y":590},
{"l":"K","s":"Warm","x":9.8,"y":480},{"l":"K","s":"Warm","x":9.4,"y":485},{"l":"K","s":"Warm","x":9.0,"y":490},{"l":"K","s":"Warm","x":8.6,"y":495},{"l":"K","s":"Warm","x":8.2,"y":505},{"l":"K","s":"Warm","x":7.8,"y":510},{"l":"K","s":"Warm","x":7.4,"y":510},{"l":"K","s":"Warm","x":7.0,"y":515},{"l":"K","s":"Warm","x":6.6,"y":520},{"l":"K","s":"Warm","x":6.3,"y":525},{"l":"K","s":"Warm","x":6.0,"y":540},{"l":"K","s":"Warm","x":5.7,"y":555},{"l":"K","s":"Warm","x":5.4,"y":560},{"l":"K","s":"Warm","x":5.1,"y":565},{"l":"K","s":"Warm","x":4.8,"y":560},{"l":"K","s":"Warm","x":4.5,"y":565},{"l":"K","s":"Warm","x":4.2,"y":560},{"l":"K","s":"Warm","x":3.9,"y":570},{"l":"K","s":"Warm","x":3.6,"y":560},{"l":"K","s":"Warm","x":3.3,"y":580},{"l":"K","s":"Warm","x":3.0,"y":565},{"l":"K","s":"Warm","x":2.7,"y":580},{"l":"K","s":"Warm","x":2.4,"y":585},{"l":"K","s":"Warm","x":2.1,"y":590},{"l":"K","s":"Warm","x":1.8,"y":585},{"l":"K","s":"Warm","x":1.5,"y":595},{"l":"K","s":"Warm","x":1.2,"y":590},{"l":"K","s":"Warm","x":0.9,"y":610},{"l":"K","s":"Warm","x":0.6,"y":620},{"l":"K","s":"Warm","x":0.3,"y":605},{"l":"K","s":"Warm","x":0.0,"y":610},
{"l":"D","s":"Cold","x":14.94,"y":560},{"l":"D","s":"Cold","x":14.7,"y":535},{"l":"D","s":"Cold","x":14.3,"y":400},{"l":"D","s":"Cold","x":14.0,"y":330},{"l":"D","s":"Cold","x":13.6,"y":285},{"l":"D","s":"Cold","x":13.3,"y":270},{"l":"D","s":"Cold","x":13.0,"y":230},{"l":"D","s":"Cold","x":12.7,"y":245},{"l":"D","s":"Cold","x":12.4,"y":290},{"l":"D","s":"Cold","x":12.1,"y":300},{"l":"D","s":"Cold","x":11.8,"y":310},{"l":"D","s":"Cold","x":11.5,"y":315},{"l":"D","s":"Cold","x":11.2,"y":310},{"l":"D","s":"Cold","x":10.9,"y":320},{"l":"D","s":"Cold","x":10.6,"y":305},{"l":"D","s":"Cold","x":10.3,"y":300},{"l":"D","s":"Cold","x":10.0,"y":300},{"l":"D","s":"Cold","x":9.7,"y":295},{"l":"D","s":"Cold","x":9.4,"y":290},{"l":"D","s":"Cold","x":9.1,"y":288},{"l":"D","s":"Cold","x":8.8,"y":340},{"l":"D","s":"Cold","x":8.5,"y":360},{"l":"D","s":"Cold","x":8.2,"y":420},{"l":"D","s":"Cold","x":7.9,"y":440},{"l":"D","s":"Cold","x":7.6,"y":470},{"l":"D","s":"Cold","x":7.3,"y":480},{"l":"D","s":"Cold","x":7.0,"y":500},{"l":"D","s":"Cold","x":6.7,"y":540},{"l":"D","s":"Cold","x":6.4,"y":520},{"l":"D","s":"Cold","x":6.1,"y":560},{"l":"D","s":"Cold","x":5.8,"y":580},{"l":"D","s":"Cold","x":5.5,"y":550},{"l":"D","s":"Cold","x":5.2,"y":590},{"l":"D","s":"Cold","x":4.9,"y":560},{"l":"D","s":"Cold","x":4.6,"y":600},{"l":"D","s":"Cold","x":4.3,"y":590},{"l":"D","s":"Cold","x":4.0,"y":610},{"l":"D","s":"Cold","x":3.7,"y":620},{"l":"D","s":"Cold","x":3.4,"y":590},{"l":"D","s":"Cold","x":3.1,"y":630},{"l":"D","s":"Cold","x":2.8,"y":600},{"l":"D","s":"Cold","x":2.5,"y":630},{"l":"D","s":"Cold","x":2.2,"y":640},{"l":"D","s":"Cold","x":1.9,"y":610},{"l":"D","s":"Cold","x":1.6,"y":630},{"l":"D","s":"Cold","x":1.3,"y":600},{"l":"D","s":"Cold","x":1.0,"y":640},{"l":"D","s":"Cold","x":0.7,"y":620},{"l":"D","s":"Cold","x":0.4,"y":650},{"l":"D","s":"Cold","x":0.2,"y":600},{"l":"D","s":"Cold","x":0.0,"y":380},
{"l":"W","s":"Cold","x":14.94,"y":448},{"l":"W","s":"Cold","x":14.7,"y":350},{"l":"W","s":"Cold","x":14.3,"y":260},{"l":"W","s":"Cold","x":14.0,"y":232},{"l":"W","s":"Cold","x":13.6,"y":231},{"l":"W","s":"Cold","x":13.3,"y":220},{"l":"W","s":"Cold","x":13.1,"y":280},{"l":"W","s":"Cold","x":12.9,"y":235},{"l":"W","s":"Cold","x":12.7,"y":360},{"l":"W","s":"Cold","x":12.5,"y":260},{"l":"W","s":"Cold","x":12.3,"y":300},{"l":"W","s":"Cold","x":12.1,"y":220},{"l":"W","s":"Cold","x":11.9,"y":300},{"l":"W","s":"Cold","x":11.7,"y":245},{"l":"W","s":"Cold","x":11.5,"y":315},{"l":"W","s":"Cold","x":11.3,"y":320},{"l":"W","s":"Cold","x":11.1,"y":300},{"l":"W","s":"Cold","x":10.9,"y":345},{"l":"W","s":"Cold","x":10.7,"y":305},{"l":"W","s":"Cold","x":10.5,"y":290},{"l":"W","s":"Cold","x":10.3,"y":415},{"l":"W","s":"Cold","x":10.1,"y":310},{"l":"W","s":"Cold","x":9.9,"y":465},{"l":"W","s":"Cold","x":9.7,"y":360},{"l":"W","s":"Cold","x":9.5,"y":440},{"l":"W","s":"Cold","x":9.3,"y":330},{"l":"W","s":"Cold","x":9.1,"y":420},{"l":"W","s":"Cold","x":8.9,"y":345},{"l":"W","s":"Cold","x":8.7,"y":480},{"l":"W","s":"Cold","x":8.5,"y":400},{"l":"W","s":"Cold","x":8.3,"y":530},{"l":"W","s":"Cold","x":8.1,"y":420},{"l":"W","s":"Cold","x":7.9,"y":500},{"l":"W","s":"Cold","x":7.7,"y":360},{"l":"W","s":"Cold","x":7.5,"y":520},{"l":"W","s":"Cold","x":7.3,"y":430},{"l":"W","s":"Cold","x":7.1,"y":540},{"l":"W","s":"Cold","x":6.9,"y":420},{"l":"W","s":"Cold","x":6.7,"y":580},{"l":"W","s":"Cold","x":6.5,"y":440},{"l":"W","s":"Cold","x":6.3,"y":600},{"l":"W","s":"Cold","x":6.1,"y":385},{"l":"W","s":"Cold","x":5.9,"y":560},{"l":"W","s":"Cold","x":5.7,"y":450},{"l":"W","s":"Cold","x":5.5,"y":580},{"l":"W","s":"Cold","x":5.3,"y":470},{"l":"W","s":"Cold","x":5.1,"y":600},{"l":"W","s":"Cold","x":4.9,"y":440},{"l":"W","s":"Cold","x":4.7,"y":610},{"l":"W","s":"Cold","x":4.5,"y":425},{"l":"W","s":"Cold","x":4.3,"y":560},{"l":"W","s":"Cold","x":4.1,"y":450},{"l":"W","s":"Cold","x":3.9,"y":620},{"l":"W","s":"Cold","x":3.7,"y":520},{"l":"W","s":"Cold","x":3.5,"y":630},{"l":"W","s":"Cold","x":3.3,"y":480},{"l":"W","s":"Cold","x":3.1,"y":600},{"l":"W","s":"Cold","x":2.9,"y":540},{"l":"W","s":"Cold","x":2.7,"y":640},{"l":"W","s":"Cold","x":2.5,"y":470},{"l":"W","s":"Cold","x":2.3,"y":620},{"l":"W","s":"Cold","x":2.1,"y":520},{"l":"W","s":"Cold","x":1.9,"y":640},{"l":"W","s":"Cold","x":1.7,"y":460},{"l":"W","s":"Cold","x":1.5,"y":650},{"l":"W","s":"Cold","x":1.3,"y":520},{"l":"W","s":"Cold","x":1.1,"y":650},{"l":"W","s":"Cold","x":0.9,"y":480},{"l":"W","s":"Cold","x":0.7,"y":640},{"l":"W","s":"Cold","x":0.5,"y":445},{"l":"W","s":"Cold","x":0.3,"y":650},{"l":"W","s":"Cold","x":0.1,"y":560},{"l":"W","s":"Cold","x":0.0,"y":520},
{"l":"F","s":"Cold","x":13.7,"y":280},{"l":"F","s":"Cold","x":13.5,"y":250},{"l":"F","s":"Cold","x":13.3,"y":290},{"l":"F","s":"Cold","x":13.1,"y":245},{"l":"F","s":"Cold","x":12.9,"y":300},{"l":"F","s":"Cold","x":12.7,"y":255},{"l":"F","s":"Cold","x":12.5,"y":320},{"l":"F","s":"Cold","x":12.3,"y":280},{"l":"F","s":"Cold","x":12.1,"y":340},{"l":"F","s":"Cold","x":11.9,"y":300},{"l":"F","s":"Cold","x":11.7,"y":325},{"l":"F","s":"Cold","x":11.5,"y":290},{"l":"F","s":"Cold","x":11.3,"y":330},{"l":"F","s":"Cold","x":11.1,"y":295},{"l":"F","s":"Cold","x":10.9,"y":310},{"l":"F","s":"Cold","x":10.7,"y":350},{"l":"F","s":"Cold","x":10.5,"y":300},{"l":"F","s":"Cold","x":10.3,"y":370},{"l":"F","s":"Cold","x":10.1,"y":340},{"l":"F","s":"Cold","x":9.9,"y":380},{"l":"F","s":"Cold","x":9.7,"y":330},{"l":"F","s":"Cold","x":9.5,"y":400},{"l":"F","s":"Cold","x":9.3,"y":360},{"l":"F","s":"Cold","x":9.1,"y":450},{"l":"F","s":"Cold","x":8.9,"y":390},{"l":"F","s":"Cold","x":8.7,"y":470},{"l":"F","s":"Cold","x":8.5,"y":420},{"l":"F","s":"Cold","x":8.3,"y":500},{"l":"F","s":"Cold","x":8.1,"y":470},{"l":"F","s":"Cold","x":7.9,"y":520},{"l":"F","s":"Cold","x":7.7,"y":470},{"l":"F","s":"Cold","x":7.5,"y":540},{"l":"F","s":"Cold","x":7.3,"y":500},{"l":"F","s":"Cold","x":7.1,"y":560},{"l":"F","s":"Cold","x":6.9,"y":480},{"l":"F","s":"Cold","x":6.7,"y":560},{"l":"F","s":"Cold","x":6.5,"y":505},{"l":"F","s":"Cold","x":6.3,"y":590},{"l":"F","s":"Cold","x":6.1,"y":500},{"l":"F","s":"Cold","x":5.9,"y":560},{"l":"F","s":"Cold","x":5.7,"y":520},{"l":"F","s":"Cold","x":5.5,"y":590},{"l":"F","s":"Cold","x":5.3,"y":510},{"l":"F","s":"Cold","x":5.1,"y":570},{"l":"F","s":"Cold","x":4.9,"y":530},{"l":"F","s":"Cold","x":4.7,"y":580},{"l":"F","s":"Cold","x":4.5,"y":520},{"l":"F","s":"Cold","x":4.3,"y":600},{"l":"F","s":"Cold","x":4.1,"y":540},{"l":"F","s":"Cold","x":3.9,"y":590},{"l":"F","s":"Cold","x":3.7,"y":560},{"l":"F","s":"Cold","x":3.5,"y":600},{"l":"F","s":"Cold","x":3.3,"y":510},{"l":"F","s":"Cold","x":3.1,"y":620},{"l":"F","s":"Cold","x":2.9,"y":560},{"l":"F","s":"Cold","x":2.7,"y":600},{"l":"F","s":"Cold","x":2.5,"y":540},{"l":"F","s":"Cold","x":2.3,"y":630},{"l":"F","s":"Cold","x":2.1,"y":580},{"l":"F","s":"Cold","x":1.9,"y":610},{"l":"F","s":"Cold","x":1.7,"y":560},{"l":"F","s":"Cold","x":1.5,"y":640},{"l":"F","s":"Cold","x":1.3,"y":590},{"l":"F","s":"Cold","x":1.1,"y":630},{"l":"F","s":"Cold","x":0.9,"y":580},{"l":"F","s":"Cold","x":0.7,"y":655},{"l":"F","s":"Cold","x":0.5,"y":600},{"l":"F","s":"Cold","x":0.3,"y":640},{"l":"F","s":"Cold","x":0.15,"y":580},{"l":"F","s":"Cold","x":0.0,"y":600},
{"l":"U","s":"Cold","x":13.5,"y":285},{"l":"U","s":"Cold","x":13.2,"y":255},{"l":"U","s":"Cold","x":12.9,"y":280},{"l":"U","s":"Cold","x":12.6,"y":245},{"l":"U","s":"Cold","x":12.3,"y":290},{"l":"U","s":"Cold","x":12.0,"y":310},{"l":"U","s":"Cold","x":11.7,"y":320},{"l":"U","s":"Cold","x":11.4,"y":330},{"l":"U","s":"Cold","x":11.1,"y":300},{"l":"U","s":"Cold","x":10.8,"y":320},{"l":"U","s":"Cold","x":10.5,"y":340},{"l":"U","s":"Cold","x":10.2,"y":400},{"l":"U","s":"Cold","x":9.9,"y":420},{"l":"U","s":"Cold","x":9.6,"y":400},{"l":"U","s":"Cold","x":6.6,"y":400},{"l":"U","s":"Cold","x":6.4,"y":365},{"l":"U","s":"Cold","x":6.2,"y":530},{"l":"U","s":"Cold","x":6.0,"y":480},{"l":"U","s":"Cold","x":5.7,"y":540},{"l":"U","s":"Cold","x":5.4,"y":500},{"l":"U","s":"Cold","x":5.1,"y":560},{"l":"U","s":"Cold","x":4.8,"y":520},{"l":"U","s":"Cold","x":4.5,"y":545},{"l":"U","s":"Cold","x":4.2,"y":510},{"l":"U","s":"Cold","x":3.9,"y":555},{"l":"U","s":"Cold","x":3.6,"y":520},{"l":"U","s":"Cold","x":3.3,"y":560},{"l":"U","s":"Cold","x":3.0,"y":530},{"l":"U","s":"Cold","x":2.7,"y":550},{"l":"U","s":"Cold","x":2.4,"y":520},{"l":"U","s":"Cold","x":2.1,"y":560},{"l":"U","s":"Cold","x":1.8,"y":540},{"l":"U","s":"Cold","x":1.5,"y":570},{"l":"U","s":"Cold","x":1.2,"y":545},{"l":"U","s":"Cold","x":0.9,"y":560},{"l":"U","s":"Cold","x":0.6,"y":520},{"l":"U","s":"Cold","x":0.3,"y":540},{"l":"U","s":"Cold","x":0.0,"y":510},
{"l":"K","s":"Cold","x":9.6,"y":450},{"l":"K","s":"Cold","x":9.2,"y":400},{"l":"K","s":"Cold","x":8.8,"y":470},{"l":"K","s":"Cold","x":8.4,"y":430},{"l":"K","s":"Cold","x":8.0,"y":490},{"l":"K","s":"Cold","x":7.6,"y":450},{"l":"K","s":"Cold","x":7.2,"y":510},{"l":"K","s":"Cold","x":6.8,"y":470},{"l":"K","s":"Cold","x":6.4,"y":520},{"l":"K","s":"Cold","x":6.0,"y":490},{"l":"K","s":"Cold","x":5.6,"y":530},{"l":"K","s":"Cold","x":5.2,"y":500},{"l":"K","s":"Cold","x":4.8,"y":540},{"l":"K","s":"Cold","x":4.4,"y":510},{"l":"K","s":"Cold","x":4.0,"y":560},{"l":"K","s":"Cold","x":3.6,"y":530},{"l":"K","s":"Cold","x":3.2,"y":570},{"l":"K","s":"Cold","x":2.8,"y":540},{"l":"K","s":"Cold","x":2.4,"y":560},{"l":"K","s":"Cold","x":2.0,"y":530},{"l":"K","s":"Cold","x":1.6,"y":570},{"l":"K","s":"Cold","x":1.2,"y":540},{"l":"K","s":"Cold","x":0.8,"y":590},{"l":"K","s":"Cold","x":0.4,"y":550},{"l":"K","s":"Cold","x":0.0,"y":570}
],
"nyB": [
{"l":"Upper","x":14.52,"y":1.79},{"l":"Upper","x":13.1,"y":1.57},{"l":"Upper","x":12.5,"y":1.54},{"l":"Upper","x":11.6,"y":1.195},{"l":"Upper","x":11.27,"y":1.75},{"l":"Upper","x":9.53,"y":1.68},{"l":"Upper","x":9.3,"y":1.45},{"l":"Upper","x":8.75,"y":1.34},{"l":"Upper","x":8.1,"y":1.42},{"l":"Upper","x":7.27,"y":1.29},{"l":"Upper","x":6.23,"y":1.33},{"l":"Upper","x":5.4,"y":1.32},{"l":"Upper","x":5.1,"y":1.23},{"l":"Upper","x":4.7,"y":1.28},{"l":"Upper","x":4.2,"y":1.26},{"l":"Upper","x":3.4,"y":1.29},{"l":"Upper","x":2.7,"y":1.29},{"l":"Upper","x":2.0,"y":1.265},{"l":"Upper","x":0.82,"y":1.28},{"l":"Upper","x":0.12,"y":1.305},
{"l":"Brandreth","x":12.3,"y":1.30},{"l":"Brandreth","x":12.05,"y":1.805},{"l":"Brandreth","x":11.9,"y":1.33},{"l":"Brandreth","x":11.7,"y":1.46},{"l":"Brandreth","x":11.5,"y":1.62},{"l":"Brandreth","x":11.3,"y":1.37},{"l":"Brandreth","x":11.1,"y":1.42},{"l":"Brandreth","x":10.9,"y":1.345},{"l":"Brandreth","x":10.66,"y":1.5},{"l":"Brandreth","x":10.45,"y":1.49},{"l":"Brandreth","x":10.28,"y":1.51},{"l":"Brandreth","x":10.0,"y":1.47},{"l":"Brandreth","x":9.8,"y":1.625},{"l":"Brandreth","x":9.6,"y":1.5},{"l":"Brandreth","x":9.4,"y":1.47},{"l":"Brandreth","x":9.25,"y":1.69},{"l":"Brandreth","x":9.1,"y":1.45},{"l":"Brandreth","x":8.94,"y":1.185},{"l":"Brandreth","x":8.8,"y":1.4},{"l":"Brandreth","x":8.66,"y":1.64},{"l":"Brandreth","x":8.3,"y":1.635},{"l":"Brandreth","x":8.1,"y":1.38},{"l":"Brandreth","x":7.9,"y":1.5},{"l":"Brandreth","x":7.76,"y":1.574},{"l":"Brandreth","x":7.5,"y":1.35},{"l":"Brandreth","x":7.27,"y":1.207},{"l":"Brandreth","x":7.0,"y":1.3},{"l":"Brandreth","x":6.82,"y":1.51},{"l":"Brandreth","x":6.52,"y":1.515},{"l":"Brandreth","x":6.28,"y":1.21},{"l":"Brandreth","x":6.0,"y":1.35},{"l":"Brandreth","x":5.76,"y":1.44},{"l":"Brandreth","x":5.5,"y":1.35},{"l":"Brandreth","x":5.3,"y":1.3},{"l":"Brandreth","x":5.15,"y":1.195},{"l":"Brandreth","x":4.94,"y":1.316},{"l":"Brandreth","x":4.8,"y":1.25},{"l":"Brandreth","x":4.66,"y":1.356},{"l":"Brandreth","x":4.45,"y":1.3},{"l":"Brandreth","x":4.24,"y":1.44},{"l":"Brandreth","x":4.1,"y":1.25},{"l":"Brandreth","x":3.88,"y":1.384},{"l":"Brandreth","x":3.6,"y":1.27},{"l":"Brandreth","x":3.4,"y":1.115},{"l":"Brandreth","x":3.18,"y":1.436},{"l":"Brandreth","x":2.94,"y":1.28},{"l":"Brandreth","x":2.7,"y":1.3},{"l":"Brandreth","x":2.4,"y":1.27},{"l":"Brandreth","x":2.12,"y":1.47},{"l":"Brandreth","x":1.72,"y":1.44},{"l":"Brandreth","x":1.55,"y":1.33},{"l":"Brandreth","x":1.4,"y":1.29},{"l":"Brandreth","x":1.15,"y":1.25},{"l":"Brandreth","x":0.94,"y":1.19},{"l":"Brandreth","x":0.75,"y":1.22},{"l":"Brandreth","x":0.6,"y":1.253},{"l":"Brandreth","x":0.4,"y":1.2},{"l":"Brandreth","x":0.19,"y":1.098},{"l":"Brandreth","x":0.07,"y":1.207},{"l":"Brandreth","x":0.0,"y":1.185},
{"l":"Heart","x":14.28,"y":2.0},{"l":"Heart","x":13.72,"y":1.79},{"l":"Heart","x":13.06,"y":2.04},{"l":"Heart","x":12.5,"y":1.515},{"l":"Heart","x":11.76,"y":1.47},{"l":"Heart","x":10.1,"y":1.75},{"l":"Heart","x":9.4,"y":1.625},{"l":"Heart","x":8.28,"y":1.41},{"l":"Heart","x":7.4,"y":1.31},{"l":"Heart","x":6.52,"y":1.28},{"l":"Heart","x":6.0,"y":1.447},{"l":"Heart","x":5.2,"y":1.35},{"l":"Heart","x":4.3,"y":1.28},{"l":"Heart","x":4.24,"y":1.26},{"l":"Heart","x":4.15,"y":1.3},{"l":"Heart","x":3.65,"y":1.28},{"l":"Heart","x":2.47,"y":1.333},{"l":"Heart","x":1.65,"y":1.333},{"l":"Heart","x":1.6,"y":1.29},{"l":"Heart","x":1.3,"y":1.3},{"l":"Heart","x":1.1,"y":1.29},{"l":"Heart","x":0.8,"y":1.305},{"l":"Heart","x":0.6,"y":1.295},{"l":"Heart","x":0.35,"y":1.315},{"l":"Heart","x":0.2,"y":1.285},{"l":"Heart","x":0.0,"y":1.275}
],
"vtB": [
{"l":"Knob Hill","x":14.07,"y":1.31},{"l":"Knob Hill","x":13.93,"y":1.96},{"l":"Knob Hill","x":13.7,"y":1.615},{"l":"Knob Hill","x":13.3,"y":1.77},{"l":"Knob Hill","x":12.95,"y":1.716},{"l":"Knob Hill","x":12.67,"y":1.89},{"l":"Knob Hill","x":12.36,"y":1.556},{"l":"Knob Hill","x":12.1,"y":1.54},{"l":"Knob Hill","x":11.82,"y":1.517},{"l":"Knob Hill","x":11.42,"y":1.459},{"l":"Knob Hill","x":11.07,"y":1.503},{"l":"Knob Hill","x":10.8,"y":1.459},{"l":"Knob Hill","x":10.53,"y":1.547},{"l":"Knob Hill","x":10.25,"y":1.43},{"l":"Knob Hill","x":9.85,"y":1.42},{"l":"Knob Hill","x":9.32,"y":1.464},{"l":"Knob Hill","x":8.96,"y":1.343},{"l":"Knob Hill","x":8.61,"y":1.4},{"l":"Knob Hill","x":8.38,"y":1.48},{"l":"Knob Hill","x":8.15,"y":1.386},{"l":"Knob Hill","x":7.84,"y":1.318},{"l":"Knob Hill","x":7.6,"y":1.372},{"l":"Knob Hill","x":7.33,"y":1.464},{"l":"Knob Hill","x":7.14,"y":1.221},{"l":"Knob Hill","x":7.0,"y":1.3},{"l":"Knob Hill","x":6.85,"y":1.23},{"l":"Knob Hill","x":6.7,"y":1.27},{"l":"Knob Hill","x":6.55,"y":1.18},{"l":"Knob Hill","x":6.4,"y":1.25},{"l":"Knob Hill","x":6.25,"y":1.21},{"l":"Knob Hill","x":6.1,"y":1.23},{"l":"Knob Hill","x":5.95,"y":1.19},{"l":"Knob Hill","x":5.8,"y":1.22},{"l":"Knob Hill","x":5.65,"y":1.2},{"l":"Knob Hill","x":5.5,"y":1.24},{"l":"Knob Hill","x":5.35,"y":1.2},{"l":"Knob Hill","x":5.2,"y":1.25},{"l":"Knob Hill","x":5.05,"y":1.19},{"l":"Knob Hill","x":4.9,"y":1.27},{"l":"Knob Hill","x":4.75,"y":1.2},{"l":"Knob Hill","x":4.6,"y":1.28},{"l":"Knob Hill","x":4.45,"y":1.19},{"l":"Knob Hill","x":4.3,"y":1.24},{"l":"Knob Hill","x":4.15,"y":1.2},{"l":"Knob Hill","x":4.0,"y":1.32},{"l":"Knob Hill","x":3.85,"y":1.22},{"l":"Knob Hill","x":3.7,"y":1.28},{"l":"Knob Hill","x":3.55,"y":1.19},{"l":"Knob Hill","x":3.4,"y":1.31},{"l":"Knob Hill","x":3.25,"y":1.2},{"l":"Knob Hill","x":3.1,"y":1.22},{"l":"Knob Hill","x":2.95,"y":1.18},{"l":"Knob Hill","x":2.8,"y":1.25},{"l":"Knob Hill","x":2.65,"y":1.21},{"l":"Knob Hill","x":2.5,"y":1.26},{"l":"Knob Hill","x":2.35,"y":1.2},{"l":"Knob Hill","x":2.2,"y":1.25},{"l":"Knob Hill","x":2.05,"y":1.19},{"l":"Knob Hill","x":1.9,"y":1.3},{"l":"Knob Hill","x":1.75,"y":1.18},{"l":"Knob Hill","x":1.6,"y":1.31},{"l":"Knob Hill","x":1.45,"y":1.27},{"l":"Knob Hill","x":1.3,"y":1.33},{"l":"Knob Hill","x":1.15,"y":1.3},{"l":"Knob Hill","x":1.0,"y":1.33},{"l":"Knob Hill","x":0.85,"y":1.31},{"l":"Knob Hill","x":0.7,"y":1.33},{"l":"Knob Hill","x":0.55,"y":1.32},{"l":"Knob Hill","x":0.4,"y":1.33},{"l":"Knob Hill","x":0.25,"y":1.29},{"l":"Knob Hill","x":0.1,"y":1.33},{"l":"Knob Hill","x":0.0,"y":1.18},
{"l":"Twin Ponds","x":13.13,"y":1.304},{"l":"Twin Ponds","x":12.95,"y":1.867},{"l":"Twin Ponds","x":12.6,"y":1.755},{"l":"Twin Ponds","x":12.0,"y":1.794},{"l":"Twin Ponds","x":11.59,"y":1.544},{"l":"Twin Ponds","x":11.07,"y":1.539},{"l":"Twin Ponds","x":10.72,"y":1.44},{"l":"Twin Ponds","x":10.14,"y":1.547},{"l":"Twin Ponds","x":9.78,"y":1.192},{"l":"Twin Ponds","x":9.2,"y":1.435},{"l":"Twin Ponds","x":8.61,"y":1.454},{"l":"Twin Ponds","x":8.26,"y":1.284},{"l":"Twin Ponds","x":8.03,"y":1.479},{"l":"Twin Ponds","x":7.7,"y":1.34},{"l":"Twin Ponds","x":7.33,"y":1.3},{"l":"Twin Ponds","x":6.5,"y":1.343},{"l":"Twin Ponds","x":6.04,"y":1.212},{"l":"Twin Ponds","x":5.69,"y":1.246},{"l":"Twin Ponds","x":5.3,"y":1.27},{"l":"Twin Ponds","x":4.98,"y":1.294},{"l":"Twin Ponds","x":4.7,"y":1.173},{"l":"Twin Ponds","x":4.4,"y":1.25},{"l":"Twin Ponds","x":4.05,"y":1.163},{"l":"Twin Ponds","x":3.8,"y":1.22},{"l":"Twin Ponds","x":3.58,"y":1.24},{"l":"Twin Ponds","x":3.35,"y":1.2},{"l":"Twin Ponds","x":3.16,"y":1.314},{"l":"Twin Ponds","x":2.88,"y":1.202},{"l":"Twin Ponds","x":2.6,"y":1.24},{"l":"Twin Ponds","x":2.29,"y":1.149},{"l":"Twin Ponds","x":2.13,"y":1.338},{"l":"Twin Ponds","x":1.82,"y":1.27},{"l":"Twin Ponds","x":1.6,"y":1.3},{"l":"Twin Ponds","x":1.35,"y":1.314},{"l":"Twin Ponds","x":1.05,"y":1.3},{"l":"Twin Ponds","x":0.77,"y":1.319},{"l":"Twin Ponds","x":0.5,"y":1.32},{"l":"Twin Ponds","x":0.3,"y":1.338},{"l":"Twin Ponds","x":0.07,"y":1.207},{"l":"Twin Ponds","x":0.0,"y":1.24}
],
"paB": [
{"l":"Spring","x":14.98,"y":1.686},{"l":"Spring","x":14.5,"y":1.686},{"l":"Spring","x":14.1,"y":1.666},{"l":"Spring","x":13.8,"y":1.822},{"l":"Spring","x":13.27,"y":2.064},{"l":"Spring","x":12.92,"y":1.879},{"l":"Spring","x":12.4,"y":1.666},{"l":"Spring","x":12.06,"y":1.44},{"l":"Spring","x":11.75,"y":1.525},{"l":"Spring","x":11.4,"y":1.42},{"l":"Spring","x":11.0,"y":1.535},{"l":"Spring","x":10.72,"y":1.452},{"l":"Spring","x":10.19,"y":1.311},{"l":"Spring","x":9.83,"y":1.494},{"l":"Spring","x":9.36,"y":1.223},{"l":"Spring","x":8.9,"y":1.145},{"l":"Spring","x":8.47,"y":1.15},{"l":"Spring","x":8.0,"y":1.1},{"l":"Spring","x":7.6,"y":1.087},{"l":"Spring","x":7.3,"y":1.15},{"l":"Spring","x":7.0,"y":1.176},{"l":"Spring","x":6.74,"y":1.113},{"l":"Spring","x":6.4,"y":1.13},{"l":"Spring","x":6.1,"y":1.2},{"l":"Spring","x":5.9,"y":1.13},{"l":"Spring","x":5.66,"y":1.27},{"l":"Spring","x":5.38,"y":1.15},{"l":"Spring","x":5.1,"y":1.478},{"l":"Spring","x":4.9,"y":1.3},{"l":"Spring","x":4.68,"y":1.249},{"l":"Spring","x":4.45,"y":1.26},{"l":"Spring","x":4.2,"y":1.275},{"l":"Spring","x":3.95,"y":1.22},{"l":"Spring","x":3.74,"y":1.192},{"l":"Spring","x":3.5,"y":1.3},{"l":"Spring","x":3.27,"y":1.468},{"l":"Spring","x":3.05,"y":1.35},{"l":"Spring","x":2.8,"y":1.306},{"l":"Spring","x":2.6,"y":1.4},{"l":"Spring","x":2.38,"y":1.447},{"l":"Spring","x":1.87,"y":1.473},{"l":"Spring","x":1.65,"y":1.4},{"l":"Spring","x":1.45,"y":1.358},{"l":"Spring","x":1.2,"y":1.42},{"l":"Spring","x":0.93,"y":1.436},{"l":"Spring","x":0.7,"y":1.38},{"l":"Spring","x":0.46,"y":1.317},{"l":"Spring","x":0.25,"y":1.25},{"l":"Spring","x":0.04,"y":1.16},
{"l":"Tannersville","x":14.98,"y":1.63},{"l":"Tannersville","x":14.5,"y":1.86},{"l":"Tannersville","x":14.28,"y":1.561},{"l":"Tannersville","x":14.0,"y":1.808},{"l":"Tannersville","x":13.7,"y":1.8},{"l":"Tannersville","x":13.39,"y":1.895},{"l":"Tannersville","x":13.11,"y":1.452},{"l":"Tannersville","x":12.9,"y":1.6},{"l":"Tannersville","x":12.64,"y":1.28},{"l":"Tannersville","x":12.4,"y":1.67},{"l":"Tannersville","x":12.1,"y":1.363},{"l":"Tannersville","x":11.87,"y":1.718},{"l":"Tannersville","x":11.59,"y":1.629},{"l":"Tannersville","x":11.35,"y":1.6},{"l":"Tannersville","x":11.12,"y":1.561},{"l":"Tannersville","x":10.9,"y":1.48},{"l":"Tannersville","x":10.72,"y":1.442},{"l":"Tannersville","x":10.42,"y":1.499},{"l":"Tannersville","x":10.02,"y":1.431},{"l":"Tannersville","x":9.78,"y":1.176},{"l":"Tannersville","x":9.5,"y":1.15},{"l":"Tannersville","x":9.25,"y":1.12},{"l":"Tannersville","x":9.0,"y":1.06},{"l":"Tannersville","x":8.78,"y":1.035},{"l":"Tannersville","x":8.55,"y":1.07},{"l":"Tannersville","x":8.31,"y":1.051},{"l":"Tannersville","x":8.1,"y":1.02},{"l":"Tannersville","x":7.96,"y":1.03},{"l":"Tannersville","x":7.75,"y":1.07},{"l":"Tannersville","x":7.6,"y":1.056},{"l":"Tannersville","x":7.4,"y":1.06},{"l":"Tannersville","x":7.26,"y":1.03},{"l":"Tannersville","x":7.0,"y":1.07},{"l":"Tannersville","x":6.79,"y":1.061},{"l":"Tannersville","x":6.55,"y":1.04},{"l":"Tannersville","x":6.32,"y":1.035},{"l":"Tannersville","x":6.1,"y":1.06},{"l":"Tannersville","x":5.85,"y":1.04},{"l":"Tannersville","x":5.6,"y":1.05},{"l":"Tannersville","x":5.38,"y":1.025},{"l":"Tannersville","x":5.2,"y":1.04},{"l":"Tannersville","x":5.03,"y":1.0},{"l":"Tannersville","x":4.85,"y":1.04},{"l":"Tannersville","x":4.68,"y":1.088},{"l":"Tannersville","x":4.44,"y":1.004},{"l":"Tannersville","x":4.25,"y":1.1},{"l":"Tannersville","x":4.09,"y":1.166},{"l":"Tannersville","x":3.9,"y":1.08},{"l":"Tannersville","x":3.74,"y":1.108},{"l":"Tannersville","x":3.5,"y":1.025},{"l":"Tannersville","x":3.3,"y":1.1},{"l":"Tannersville","x":3.04,"y":1.082},{"l":"Tannersville","x":2.8,"y":1.06},{"l":"Tannersville","x":2.57,"y":1.108},{"l":"Tannersville","x":2.35,"y":1.06},{"l":"Tannersville","x":2.1,"y":1.025},{"l":"Tannersville","x":1.85,"y":1.08},{"l":"Tannersville","x":1.63,"y":1.072},{"l":"Tannersville","x":1.4,"y":1.05},{"l":"Tannersville","x":1.17,"y":1.015},{"l":"Tannersville","x":0.95,"y":1.05},{"l":"Tannersville","x":0.7,"y":1.077},{"l":"Tannersville","x":0.5,"y":1.1},{"l":"Tannersville","x":0.28,"y":1.114},{"l":"Tannersville","x":0.04,"y":1.213},
{"l":"Balsam","x":14.98,"y":1.254},{"l":"Balsam","x":14.7,"y":1.582},{"l":"Balsam","x":14.0,"y":1.181},{"l":"Balsam","x":13.7,"y":1.22},{"l":"Balsam","x":13.34,"y":1.254},{"l":"Balsam","x":12.8,"y":1.45},{"l":"Balsam","x":12.4,"y":1.65},{"l":"Balsam","x":12.1,"y":1.45},{"l":"Balsam","x":11.7,"y":1.33},{"l":"Balsam","x":11.4,"y":1.327},{"l":"Balsam","x":10.96,"y":1.358},{"l":"Balsam","x":10.49,"y":1.707},{"l":"Balsam","x":10.0,"y":1.62},{"l":"Balsam","x":9.48,"y":1.546},{"l":"Balsam","x":9.01,"y":1.499},{"l":"Balsam","x":8.5,"y":1.249},{"l":"Balsam","x":7.96,"y":1.582},{"l":"Balsam","x":7.72,"y":1.28},{"l":"Balsam","x":7.65,"y":1.468},{"l":"Balsam","x":7.44,"y":1.098},{"l":"Balsam","x":7.2,"y":1.16},{"l":"Balsam","x":7.0,"y":1.13},{"l":"Balsam","x":6.8,"y":1.2},{"l":"Balsam","x":6.55,"y":1.296},{"l":"Balsam","x":6.35,"y":1.12},{"l":"Balsam","x":6.2,"y":1.093},{"l":"Balsam","x":5.9,"y":1.218},{"l":"Balsam","x":5.7,"y":1.15},{"l":"Balsam","x":5.5,"y":1.103},{"l":"Balsam","x":5.2,"y":1.12},{"l":"Balsam","x":4.95,"y":1.16},{"l":"Balsam","x":4.7,"y":1.12},{"l":"Balsam","x":4.45,"y":1.2},{"l":"Balsam","x":4.2,"y":1.093},{"l":"Balsam","x":3.9,"y":1.15},{"l":"Balsam","x":3.58,"y":1.239},{"l":"Balsam","x":3.27,"y":1.108},{"l":"Balsam","x":3.0,"y":1.15},{"l":"Balsam","x":2.69,"y":1.416},{"l":"Balsam","x":2.45,"y":1.108},{"l":"Balsam","x":2.2,"y":1.14},{"l":"Balsam","x":1.87,"y":1.171},{"l":"Balsam","x":1.6,"y":1.14},{"l":"Balsam","x":1.4,"y":1.181},{"l":"Balsam","x":1.2,"y":1.1},{"l":"Balsam","x":1.05,"y":1.447},{"l":"Balsam","x":0.9,"y":1.3},{"l":"Balsam","x":0.7,"y":1.108},{"l":"Balsam","x":0.5,"y":1.2},{"l":"Balsam","x":0.35,"y":1.358},{"l":"Balsam","x":0.15,"y":1.1},{"l":"Balsam","x":0.0,"y":1.358},
{"l":"Blanding","x":14.1,"y":1.567},{"l":"Blanding","x":13.81,"y":1.353},{"l":"Blanding","x":13.65,"y":1.598},{"l":"Blanding","x":13.2,"y":1.45},{"l":"Blanding","x":12.83,"y":1.306},{"l":"Blanding","x":12.52,"y":1.337},{"l":"Blanding","x":11.94,"y":1.551},{"l":"Blanding","x":10.18,"y":1.556},{"l":"Blanding","x":10.02,"y":1.239},{"l":"Blanding","x":9.71,"y":1.348},{"l":"Blanding","x":9.41,"y":1.39},{"l":"Blanding","x":9.06,"y":1.072},{"l":"Blanding","x":8.66,"y":1.082},{"l":"Blanding","x":8.2,"y":1.11},{"l":"Blanding","x":7.84,"y":1.119},{"l":"Blanding","x":7.0,"y":1.12},{"l":"Blanding","x":6.55,"y":1.113},{"l":"Blanding","x":6.2,"y":1.12},{"l":"Blanding","x":5.85,"y":1.155},{"l":"Blanding","x":5.6,"y":1.13},{"l":"Blanding","x":5.38,"y":1.124},{"l":"Blanding","x":4.96,"y":1.098},{"l":"Blanding","x":4.5,"y":1.14},{"l":"Blanding","x":4.09,"y":1.186},{"l":"Blanding","x":3.8,"y":1.17},{"l":"Blanding","x":3.51,"y":1.119},{"l":"Blanding","x":3.23,"y":1.202},{"l":"Blanding","x":2.92,"y":1.113},{"l":"Blanding","x":2.57,"y":1.14},{"l":"Blanding","x":2.1,"y":1.14},{"l":"Blanding","x":1.63,"y":1.14},{"l":"Blanding","x":1.17,"y":1.113},{"l":"Blanding","x":0.7,"y":1.14},{"l":"Blanding","x":0.35,"y":1.124},{"l":"Blanding","x":0.11,"y":1.202},{"l":"Blanding","x":0.0,"y":1.218}
],
"maB": [
{"l":"Winneconnet","x":14.94,"y":1.296},{"l":"Winneconnet","x":14.66,"y":1.317},{"l":"Winneconnet","x":14.42,"y":1.495},{"l":"Winneconnet","x":13.95,"y":1.63},{"l":"Winneconnet","x":13.53,"y":1.766},{"l":"Winneconnet","x":13.37,"y":2.058},{"l":"Winneconnet","x":13.13,"y":1.734},{"l":"Winneconnet","x":12.9,"y":1.541},{"l":"Winneconnet","x":12.66,"y":2.058},{"l":"Winneconnet","x":12.43,"y":1.776},{"l":"Winneconnet","x":12.2,"y":1.911},{"l":"Winneconnet","x":11.89,"y":2.048},{"l":"Winneconnet","x":11.66,"y":1.672},{"l":"Winneconnet","x":11.42,"y":1.567},{"l":"Winneconnet","x":11.1,"y":1.687},{"l":"Winneconnet","x":10.67,"y":1.536},{"l":"Winneconnet","x":10.09,"y":1.64},{"l":"Winneconnet","x":9.5,"y":1.651},{"l":"Winneconnet","x":9.08,"y":1.702},{"l":"Winneconnet","x":8.68,"y":1.505},{"l":"Winneconnet","x":8.38,"y":1.317},{"l":"Winneconnet","x":8.2,"y":1.24},{"l":"Winneconnet","x":7.98,"y":1.145},{"l":"Winneconnet","x":7.8,"y":1.18},{"l":"Winneconnet","x":7.63,"y":1.193},{"l":"Winneconnet","x":7.4,"y":1.1},{"l":"Winneconnet","x":7.16,"y":1.234},{"l":"Winneconnet","x":6.9,"y":1.1},{"l":"Winneconnet","x":6.6,"y":1.12},{"l":"Winneconnet","x":6.34,"y":1.224},{"l":"Winneconnet","x":6.15,"y":1.1},{"l":"Winneconnet","x":5.99,"y":1.187},{"l":"Winneconnet","x":5.75,"y":1.06},{"l":"Winneconnet","x":5.52,"y":1.182},{"l":"Winneconnet","x":5.2,"y":1.05},{"l":"Winneconnet","x":4.94,"y":1.219},{"l":"Winneconnet","x":4.75,"y":1.06},{"l":"Winneconnet","x":4.59,"y":1.161},{"l":"Winneconnet","x":4.4,"y":1.04},{"l":"Winneconnet","x":4.23,"y":1.182},{"l":"Winneconnet","x":4.0,"y":1.08},{"l":"Winneconnet","x":3.77,"y":0.963},{"l":"Winneconnet","x":3.6,"y":1.06},{"l":"Winneconnet","x":3.37,"y":1.151},{"l":"Winneconnet","x":3.15,"y":1.03},{"l":"Winneconnet","x":2.9,"y":1.005},{"l":"Winneconnet","x":2.6,"y":1.02},{"l":"Winneconnet","x":2.24,"y":0.995},{"l":"Winneconnet","x":2.0,"y":1.04},{"l":"Winneconnet","x":1.78,"y":1.057},{"l":"Winneconnet","x":1.55,"y":1.03},{"l":"Winneconnet","x":1.31,"y":1.041},{"l":"Winneconnet","x":1.0,"y":1.03},{"l":"Winneconnet","x":0.72,"y":1.01},{"l":"Winneconnet","x":0.5,"y":1.02},{"l":"Winneconnet","x":0.25,"y":1.005},{"l":"Winneconnet","x":0.02,"y":1.026},
{"l":"Deep.F","x":13.32,"y":1.745},{"l":"Deep.F","x":13.1,"y":1.9},{"l":"Deep.F","x":12.9,"y":2.016},{"l":"Deep.F","x":12.7,"y":1.85},{"l":"Deep.F","x":12.5,"y":2.087},{"l":"Deep.F","x":12.2,"y":1.797},{"l":"Deep.F","x":11.96,"y":1.964},{"l":"Deep.F","x":11.75,"y":1.7},{"l":"Deep.F","x":11.56,"y":1.64},{"l":"Deep.F","x":11.4,"y":1.58},{"l":"Deep.F","x":11.26,"y":1.526},{"l":"Deep.F","x":10.91,"y":1.567},{"l":"Deep.F","x":10.75,"y":1.48},{"l":"Deep.F","x":10.56,"y":1.453},{"l":"Deep.F","x":10.3,"y":1.5},{"l":"Deep.F","x":10.1,"y":1.38},{"l":"Deep.F","x":9.9,"y":1.541},{"l":"Deep.F","x":9.62,"y":1.443},{"l":"Deep.F","x":9.39,"y":1.526},{"l":"Deep.F","x":9.15,"y":1.422},{"l":"Deep.F","x":8.95,"y":1.35},{"l":"Deep.F","x":8.8,"y":1.453},{"l":"Deep.F","x":8.52,"y":1.297},{"l":"Deep.F","x":8.33,"y":1.474},{"l":"Deep.F","x":8.15,"y":1.203},{"l":"Deep.F","x":7.86,"y":1.161},{"l":"Deep.F","x":7.6,"y":1.22},{"l":"Deep.F","x":7.4,"y":1.198},{"l":"Deep.F","x":7.15,"y":1.12},{"l":"Deep.F","x":6.93,"y":1.213},{"l":"Deep.F","x":6.7,"y":1.1},{"l":"Deep.F","x":6.5,"y":1.14},{"l":"Deep.F","x":6.3,"y":1.05},{"l":"Deep.F","x":6.11,"y":1.276},{"l":"Deep.F","x":5.95,"y":1.1},{"l":"Deep.F","x":5.76,"y":1.156},{"l":"Deep.F","x":5.55,"y":1.08},{"l":"Deep.F","x":5.33,"y":1.203},{"l":"Deep.F","x":5.15,"y":1.06},{"l":"Deep.F","x":4.94,"y":1.151},{"l":"Deep.F","x":4.7,"y":1.12},{"l":"Deep.F","x":4.45,"y":1.2},{"l":"Deep.F","x":4.2,"y":1.1},{"l":"Deep.F","x":4.0,"y":1.219},{"l":"Deep.F","x":3.85,"y":1.1},{"l":"Deep.F","x":3.65,"y":1.088},{"l":"Deep.F","x":3.4,"y":1.1},{"l":"Deep.F","x":3.2,"y":1.06},{"l":"Deep.F","x":2.95,"y":1.047},{"l":"Deep.F","x":2.7,"y":1.07},{"l":"Deep.F","x":2.48,"y":1.068},{"l":"Deep.F","x":2.25,"y":1.04},{"l":"Deep.F","x":2.0,"y":1.036},{"l":"Deep.F","x":1.75,"y":1.05},{"l":"Deep.F","x":1.54,"y":1.026},{"l":"Deep.F","x":1.35,"y":1.04},{"l":"Deep.F","x":1.19,"y":1.005},{"l":"Deep.F","x":1.0,"y":1.02},{"l":"Deep.F","x":0.84,"y":0.984},{"l":"Deep.F","x":0.65,"y":1.0},{"l":"Deep.F","x":0.49,"y":1.031},{"l":"Deep.F","x":0.3,"y":1.0},{"l":"Deep.F","x":0.14,"y":0.969},{"l":"Deep.F","x":0.02,"y":1.026},
{"l":"Deep.T","x":14.94,"y":1.432},{"l":"Deep.T","x":14.42,"y":2.048},{"l":"Deep.T","x":13.37,"y":2.079},{"l":"Deep.T","x":13.02,"y":1.964},{"l":"Deep.T","x":12.67,"y":1.88},{"l":"Deep.T","x":12.08,"y":1.714},{"l":"Deep.T","x":11.66,"y":1.541},{"l":"Deep.T","x":10.84,"y":1.656},{"l":"Deep.T","x":10.65,"y":1.5},{"l":"Deep.T","x":10.39,"y":1.677},{"l":"Deep.T","x":10.25,"y":1.411},{"l":"Deep.T","x":10.02,"y":1.578},{"l":"Deep.T","x":9.85,"y":1.411},{"l":"Deep.T","x":9.55,"y":1.354},{"l":"Deep.T","x":9.15,"y":1.354},{"l":"Deep.T","x":8.68,"y":1.432},{"l":"Deep.T","x":8.4,"y":1.28},{"l":"Deep.T","x":8.1,"y":1.22},{"l":"Deep.T","x":7.86,"y":1.229},{"l":"Deep.T","x":7.6,"y":1.16},{"l":"Deep.T","x":7.4,"y":1.062},{"l":"Deep.T","x":7.15,"y":1.12},{"l":"Deep.T","x":6.93,"y":1.114},{"l":"Deep.T","x":6.7,"y":1.07},{"l":"Deep.T","x":6.46,"y":1.098},{"l":"Deep.T","x":6.2,"y":1.05},{"l":"Deep.T","x":5.99,"y":1.072},{"l":"Deep.T","x":5.75,"y":1.04},{"l":"Deep.T","x":5.52,"y":1.088},{"l":"Deep.T","x":5.2,"y":1.06},{"l":"Deep.T","x":4.87,"y":1.057},{"l":"Deep.T","x":4.55,"y":1.03},{"l":"Deep.T","x":4.23,"y":1.041},{"l":"Deep.T","x":3.9,"y":1.0},{"l":"Deep.T","x":3.53,"y":0.963},{"l":"Deep.T","x":3.25,"y":0.99},{"l":"Deep.T","x":2.95,"y":0.995},{"l":"Deep.T","x":2.6,"y":1.0},{"l":"Deep.T","x":2.24,"y":1.015},{"l":"Deep.T","x":1.9,"y":1.04},{"l":"Deep.T","x":1.54,"y":1.062},{"l":"Deep.T","x":1.3,"y":1.07},{"l":"Deep.T","x":1.07,"y":1.088},{"l":"Deep.T","x":0.85,"y":1.1},{"l":"Deep.T","x":0.65,"y":1.135},{"l":"Deep.T","x":0.49,"y":1.083},{"l":"Deep.T","x":0.25,"y":1.177},{"l":"Deep.T","x":0.14,"y":0.969},{"l":"Deep.T","x":0.05,"y":1.0},
{"l":"Black","x":9.85,"y":1.349},{"l":"Black","x":9.6,"y":1.25},{"l":"Black","x":9.39,"y":1.104},{"l":"Black","x":9.15,"y":1.25},{"l":"Black","x":8.85,"y":1.23},{"l":"Black","x":8.4,"y":1.25},{"l":"Black","x":7.8,"y":1.27},{"l":"Black","x":7.2,"y":1.29},{"l":"Black","x":6.6,"y":1.3},{"l":"Black","x":6.46,"y":1.328},{"l":"Black","x":6.4,"y":1.003},{"l":"Black","x":6.3,"y":1.06},{"l":"Black","x":6.22,"y":1.354},{"l":"Black","x":6.1,"y":1.05},{"l":"Black","x":5.99,"y":1.072},{"l":"Black","x":5.8,"y":1.02},{"l":"Black","x":5.6,"y":1.1},{"l":"Black","x":5.4,"y":1.04},{"l":"Black","x":5.2,"y":1.08},{"l":"Black","x":5.05,"y":1.067},{"l":"Black","x":4.85,"y":1.02},{"l":"Black","x":4.6,"y":1.01},{"l":"Black","x":4.35,"y":1.01},{"l":"Black","x":4.12,"y":1.005},{"l":"Black","x":3.9,"y":1.03},{"l":"Black","x":3.65,"y":1.0},{"l":"Black","x":3.42,"y":1.015},{"l":"Black","x":3.2,"y":1.04},{"l":"Black","x":2.95,"y":0.99},{"l":"Black","x":2.71,"y":1.005},{"l":"Black","x":2.45,"y":1.02},{"l":"Black","x":2.13,"y":0.995},{"l":"Black","x":1.95,"y":0.95},{"l":"Black","x":1.78,"y":0.89},{"l":"Black","x":1.55,"y":0.99},{"l":"Black","x":1.31,"y":0.969},{"l":"Black","x":1.1,"y":1.0},{"l":"Black","x":0.84,"y":0.943},{"l":"Black","x":0.6,"y":1.052},{"l":"Black","x":0.4,"y":1.0},{"l":"Black","x":0.25,"y":0.943},{"l":"Black","x":0.12,"y":1.03},{"l":"Black","x":0.08,"y":0.865},{"l":"Black","x":0.02,"y":1.0},
{"l":"Uncle Seth's","x":13.25,"y":1.724},{"l":"Uncle Seth's","x":13.06,"y":1.854},{"l":"Uncle Seth's","x":12.59,"y":1.64},{"l":"Uncle Seth's","x":12.2,"y":1.66},{"l":"Uncle Seth's","x":11.89,"y":1.687},{"l":"Uncle Seth's","x":11.66,"y":1.551},{"l":"Uncle Seth's","x":11.26,"y":1.551},{"l":"Uncle Seth's","x":10.96,"y":1.422},{"l":"Uncle Seth's","x":10.63,"y":1.604},{"l":"Uncle Seth's","x":10.32,"y":1.208},{"l":"Uncle Seth's","x":10.2,"y":1.359},{"l":"Uncle Seth's","x":10.02,"y":1.057},{"l":"Uncle Seth's","x":9.74,"y":1.4},{"l":"Uncle Seth's","x":9.39,"y":1.098},{"l":"Uncle Seth's","x":9.03,"y":1.213},{"l":"Uncle Seth's","x":8.73,"y":1.093},{"l":"Uncle Seth's","x":8.5,"y":1.213},{"l":"Uncle Seth's","x":8.15,"y":1.333},{"l":"Uncle Seth's","x":7.86,"y":0.995},{"l":"Uncle Seth's","x":7.4,"y":1.354},{"l":"Uncle Seth's","x":6.93,"y":1.244},{"l":"Uncle Seth's","x":6.7,"y":1.2},{"l":"Uncle Seth's","x":6.46,"y":1.103},{"l":"Uncle Seth's","x":6.11,"y":1.281},{"l":"Uncle Seth's","x":5.76,"y":1.0},{"l":"Uncle Seth's","x":5.4,"y":1.1},{"l":"Uncle Seth's","x":5.2,"y":1.05},{"l":"Uncle Seth's","x":4.94,"y":1.208},{"l":"Uncle Seth's","x":4.59,"y":1.067},{"l":"Uncle Seth's","x":4.3,"y":1.15},{"l":"Uncle Seth's","x":4.0,"y":1.182},{"l":"Uncle Seth's","x":3.75,"y":1.1},{"l":"Uncle Seth's","x":3.53,"y":1.036},{"l":"Uncle Seth's","x":3.2,"y":1.1},{"l":"Uncle Seth's","x":2.9,"y":1.07},{"l":"Uncle Seth's","x":2.6,"y":1.104},{"l":"Uncle Seth's","x":2.3,"y":1.06},{"l":"Uncle Seth's","x":2.0,"y":1.036},{"l":"Uncle Seth's","x":1.8,"y":1.1},{"l":"Uncle Seth's","x":1.54,"y":1.156},{"l":"Uncle Seth's","x":1.2,"y":1.08},{"l":"Uncle Seth's","x":0.84,"y":0.979},{"l":"Uncle Seth's","x":0.49,"y":1.062},{"l":"Uncle Seth's","x":0.3,"y":0.96},{"l":"Uncle Seth's","x":0.18,"y":0.883},{"l":"Uncle Seth's","x":0.02,"y":1.333}
]
},
"concat": [
{"width": 197.4, "height": 464, "title": {"text": "New York"}, "data": {"name": "nyT"}, "mark": {"type": "line", "strokeWidth": 2.7},
 "encoding": {
  "x": {"field": "x", "type": "quantitative", "scale": {"domain": [14, 0], "nice": false, "zero": false}, "axis": {"title": null, "values": [14,12,10,8,6,4,2,0], "labelExpr": "datum.value % 4 == 2 ? datum.label : ''"}},
  "y": {"field": "y", "type": "quantitative", "scale": {"domain": [200, 800], "nice": false, "zero": false}, "axis": {"title": "Total precipitation mm", "offset": 13.5, "values": [200,300,400,500,600,700,800], "titleX": -66, "titleY": 232, "titleBaseline": "alphabetic", "titleAlign": "center"}},
  "color": {"field": "s", "type": "nominal", "scale": {"domain": ["Warm","Cold"], "range": ["#FF8C69","#87CEFA"]}, "legend": {"title": null, "legendX": 81, "legendY": 392, "symbolStrokeWidth": 5}},
  "detail": {"field": "l", "type": "nominal"}}},
{"width": 197.4, "height": 464, "title": {"text": "Vermont"}, "data": {"name": "vtT"}, "mark": {"type": "line", "strokeWidth": 2.7},
 "encoding": {
  "x": {"field": "x", "type": "quantitative", "scale": {"domain": [14, 0], "nice": false, "zero": false}, "axis": {"title": null, "values": [14,12,10,8,6,4,2,0], "labelExpr": "datum.value % 4 == 2 ? datum.label : ''"}},
  "y": {"field": "y", "type": "quantitative", "scale": {"domain": [200, 800], "nice": false, "zero": false}, "axis": {"title": null, "offset": 13.5, "values": [200,300,400,500,600,700,800]}},
  "color": {"field": "s", "type": "nominal", "scale": {"domain": ["Warm","Cold"], "range": ["#FF8C69","#87CEFA"]}, "legend": {"title": null, "legendX": 81, "legendY": 392, "symbolStrokeWidth": 5}},
  "detail": {"field": "l", "type": "nominal"}}},
{"width": 197.4, "height": 464, "title": {"text": "Pennsylvania"}, "data": {"name": "paT"}, "mark": {"type": "line", "strokeWidth": 2.7},
 "encoding": {
  "x": {"field": "x", "type": "quantitative", "scale": {"domain": [14, 0], "nice": false, "zero": false}, "axis": {"title": null, "values": [14,12,10,8,6,4,2,0], "labelExpr": "datum.value % 4 == 2 ? datum.label : ''"}},
  "y": {"field": "y", "type": "quantitative", "scale": {"domain": [200, 800], "nice": false, "zero": false}, "axis": {"title": null, "offset": 13.5, "values": [200,300,400,500,600,700,800]}},
  "color": {"field": "s", "type": "nominal", "scale": {"domain": ["Warm","Cold"], "range": ["#FF8C69","#87CEFA"]}, "legend": {"title": null, "legendX": 81, "legendY": 392, "symbolStrokeWidth": 5}},
  "detail": {"field": "l", "type": "nominal"}}},
{"width": 197.4, "height": 464, "title": {"text": "Massachusetts"}, "data": {"name": "maT"}, "mark": {"type": "line", "strokeWidth": 2.7},
 "encoding": {
  "x": {"field": "x", "type": "quantitative", "scale": {"domain": [14, 0], "nice": false, "zero": false}, "axis": {"title": null, "values": [14,12,10,8,6,4,2,0], "labelExpr": "datum.value % 4 == 2 ? datum.label : ''"}},
  "y": {"field": "y", "type": "quantitative", "scale": {"domain": [200, 800], "nice": false, "zero": false}, "axis": {"title": null, "offset": 13.5, "values": [200,300,400,500,600,700,800]}},
  "color": {"field": "s", "type": "nominal", "scale": {"domain": ["Warm","Cold"], "range": ["#FF8C69","#87CEFA"]}, "legend": {"title": null, "legendX": 91, "legendY": 396, "labelFontSize": 21, "labelOffset": 15, "symbolSize": 729, "symbolStrokeWidth": 5}},
  "detail": {"field": "l", "type": "nominal"}}},
{"width": 197.4, "height": 514, "title": {"text": "B.", "anchor": "start", "frame": "bounds", "fontSize": 40, "fontWeight": "bold", "dx": 0, "dy": 12}, "data": {"name": "nyB"}, "mark": {"type": "line", "strokeWidth": 2.7},
 "encoding": {
  "x": {"field": "x", "type": "quantitative", "scale": {"domain": [14, 0], "nice": false, "zero": false}, "axis": {"title": null, "values": [14,12,10,8,6,4,2,0], "labelExpr": "datum.value % 4 == 2 ? datum.label : ''"}},
  "y": {"field": "y", "type": "quantitative", "scale": {"domain": [0.8, 2.2], "nice": false, "zero": false}, "axis": {"title": "Warm to cold season ratio", "offset": 13.5, "values": [0.8,1.0,1.2,1.4,1.6,1.8,2.0,2.2], "format": ".1f", "titleX": -66, "titleY": 257, "titleBaseline": "alphabetic", "titleAlign": "center"}},
  "color": {"field": "l", "type": "nominal", "sort": null, "scale": {"domain": ["Upper","Brandreth","Heart"], "range": ["#4D4D4D","#B3B3B3","#228B22"]}, "legend": {"title": null, "legendX": 45, "legendY": 13, "symbolSize": 812, "labelFontSize": 21, "labelFontWeight": "bold", "labelOffset": 17, "symbolStrokeWidth": 5}}}},
{"width": 197.4, "height": 514, "data": {"name": "vtB"}, "mark": {"type": "line", "strokeWidth": 2.7},
 "encoding": {
  "x": {"field": "x", "type": "quantitative", "scale": {"domain": [14, 0], "nice": false, "zero": false}, "axis": {"title": "Age calibrated kyrs", "titleFontSize": 34, "titleX": 267.5, "titleY": 77, "titleBaseline": "alphabetic", "titleAlign": "center", "values": [14,12,10,8,6,4,2,0], "labelExpr": "datum.value % 4 == 2 ? datum.label : ''"}},
  "y": {"field": "y", "type": "quantitative", "scale": {"domain": [0.8, 2.2], "nice": false, "zero": false}, "axis": {"title": null, "offset": 13.5, "values": [0.8,1.0,1.2,1.4,1.6,1.8,2.0,2.2], "format": ".1f"}},
  "color": {"field": "l", "type": "nominal", "sort": null, "scale": {"domain": ["Knob Hill","Twin Ponds"], "range": ["#4D4D4D","#B3B3B3"]}, "legend": {"title": null, "legendX": 28, "legendY": 13, "symbolSize": 784, "labelFontSize": 23, "labelOffset": 17, "symbolStrokeWidth": 5}}}},
{"width": 197.4, "height": 514, "data": {"name": "paB"}, "mark": {"type": "line", "strokeWidth": 2.7},
 "encoding": {
  "x": {"field": "x", "type": "quantitative", "scale": {"domain": [14, 0], "nice": false, "zero": false}, "axis": {"title": null, "values": [14,12,10,8,6,4,2,0], "labelExpr": "datum.value % 4 == 2 ? datum.label : ''"}},
  "y": {"field": "y", "type": "quantitative", "scale": {"domain": [0.8, 2.2], "nice": false, "zero": false}, "axis": {"title": null, "offset": 13.5, "values": [0.8,1.0,1.2,1.4,1.6,1.8,2.0,2.2], "format": ".1f"}},
  "color": {"field": "l", "type": "nominal", "sort": null, "scale": {"domain": ["Spring","Tannersville","Balsam","Blanding"], "range": ["#4D4D4D","#B3B3B3","#CDCD00","#228B22"]}, "legend": {"title": null, "legendX": 38, "legendY": 13, "symbolSize": 676, "labelFontSize": 20, "labelFontWeight": "bold", "labelOffset": 15, "symbolStrokeWidth": 5}}}},
{"width": 197.4, "height": 514, "data": {"name": "maB"}, "mark": {"type": "line", "strokeWidth": 2.7},
 "encoding": {
  "x": {"field": "x", "type": "quantitative", "scale": {"domain": [14, 0], "nice": false, "zero": false}, "axis": {"title": null, "values": [14,12,10,8,6,4,2,0], "labelExpr": "datum.value % 4 == 2 ? datum.label : ''"}},
  "y": {"field": "y", "type": "quantitative", "scale": {"domain": [0.8, 2.2], "nice": false, "zero": false}, "axis": {"title": null, "offset": 13.5, "values": [0.8,1.0,1.2,1.4,1.6,1.8,2.0,2.2], "format": ".1f"}},
  "color": {"field": "l", "type": "nominal", "sort": null, "scale": {"domain": ["Winneconnet","Deep.F","Deep.T","Black","Uncle Seth's"], "range": ["#4D4D4D","#B3B3B3","#8F4B38","#CDCD00","#228B22"]}, "legend": {"title": null, "legendX": 40, "legendY": 13, "symbolSize": 676, "labelFontSize": 20, "labelFontWeight": "bold", "labelOffset": 15, "symbolStrokeWidth": 5}}}}
]
}
